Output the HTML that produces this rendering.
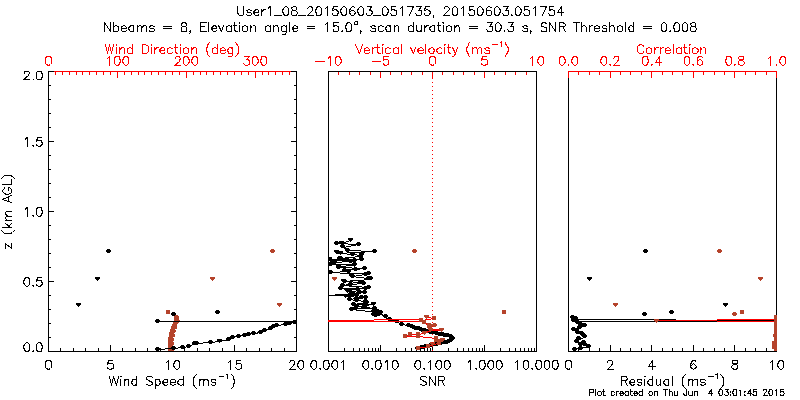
<!DOCTYPE html>
<html lang="en"><head><meta charset="utf-8"><title>User1_08_20150603_051735</title>
<style>
html,body{margin:0;padding:0;background:#fff;}
body{width:800px;height:400px;overflow:hidden;font-family:"Liberation Sans",sans-serif;}
svg{display:block;}
.t{font-family:"Liberation Sans",sans-serif;font-size:11px;fill:#000;fill-opacity:0;}
</style></head><body>
<svg width="800" height="400" viewBox="0 0 800 400" shape-rendering="crispEdges">
<defs>
<clipPath id="cl"><rect x="48" y="71" width="249" height="281"/></clipPath>
<clipPath id="cm"><rect x="328" y="71" width="209" height="281"/></clipPath>
<clipPath id="cr"><rect x="568" y="71" width="209" height="281"/></clipPath>
</defs>
<rect width="800" height="400" fill="#ffffff"/>
<g id="data">
<path d="M48 71h249v1h-249zM48 351h249v1h-249zM48 71h1v281h-1zM296 71h1v281h-1zM48 351h6v1h-6zM291 351h6v1h-6zM48 337h3v1h-3zM294 337h3v1h-3zM48 323h3v1h-3zM294 323h3v1h-3zM48 309h3v1h-3zM294 309h3v1h-3zM48 295h3v1h-3zM294 295h3v1h-3zM48 281h6v1h-6zM291 281h6v1h-6zM48 267h3v1h-3zM294 267h3v1h-3zM48 253h3v1h-3zM294 253h3v1h-3zM48 239h3v1h-3zM294 239h3v1h-3zM48 225h3v1h-3zM294 225h3v1h-3zM48 211h6v1h-6zM291 211h6v1h-6zM48 197h3v1h-3zM294 197h3v1h-3zM48 183h3v1h-3zM294 183h3v1h-3zM48 169h3v1h-3zM294 169h3v1h-3zM48 155h3v1h-3zM294 155h3v1h-3zM48 141h6v1h-6zM291 141h6v1h-6zM48 127h3v1h-3zM294 127h3v1h-3zM48 113h3v1h-3zM294 113h3v1h-3zM48 99h3v1h-3zM294 99h3v1h-3zM48 85h3v1h-3zM294 85h3v1h-3zM48 71h6v1h-6zM291 71h6v1h-6zM48 345h1v7h-1zM60 348h1v4h-1zM73 348h1v4h-1zM85 348h1v4h-1zM98 348h1v4h-1zM110 345h1v7h-1zM122 348h1v4h-1zM135 348h1v4h-1zM147 348h1v4h-1zM160 348h1v4h-1zM172 345h1v7h-1zM184 348h1v4h-1zM197 348h1v4h-1zM209 348h1v4h-1zM222 348h1v4h-1zM234 345h1v7h-1zM246 348h1v4h-1zM259 348h1v4h-1zM271 348h1v4h-1zM284 348h1v4h-1zM296 345h1v7h-1z" fill="#000000" stroke="none"/>
<path d="M54 71h237v1h-237zM55 71h1v4h-1zM62 71h1v4h-1zM69 71h1v4h-1zM76 71h1v4h-1zM82 71h1v4h-1zM89 71h1v4h-1zM96 71h1v4h-1zM103 71h1v4h-1zM110 71h1v4h-1zM117 71h1v7h-1zM124 71h1v4h-1zM131 71h1v4h-1zM138 71h1v4h-1zM144 71h1v4h-1zM151 71h1v4h-1zM158 71h1v4h-1zM165 71h1v4h-1zM172 71h1v4h-1zM179 71h1v4h-1zM186 71h1v7h-1zM193 71h1v4h-1zM200 71h1v4h-1zM206 71h1v4h-1zM213 71h1v4h-1zM220 71h1v4h-1zM227 71h1v4h-1zM234 71h1v4h-1zM241 71h1v4h-1zM248 71h1v4h-1zM255 71h1v7h-1zM262 71h1v4h-1zM268 71h1v4h-1zM275 71h1v4h-1zM282 71h1v4h-1zM289 71h1v4h-1z" fill="#ff0000" stroke="none"/>
<path d="M328 71h1v7h-1zM338 71h1v4h-1zM349 71h1v4h-1zM359 71h1v4h-1zM370 71h1v4h-1zM380 71h1v7h-1zM390 71h1v4h-1zM401 71h1v4h-1zM411 71h1v4h-1zM422 71h1v4h-1zM432 71h1v7h-1zM442 71h1v4h-1zM453 71h1v4h-1zM463 71h1v4h-1zM474 71h1v4h-1zM484 71h1v7h-1zM494 71h1v4h-1zM505 71h1v4h-1zM515 71h1v4h-1zM526 71h1v4h-1zM536 71h1v7h-1z" fill="#ff0000" stroke="none"/>
<path d="M328 71h209v1h-209zM328 351h209v1h-209zM328 71h1v281h-1zM536 71h1v281h-1zM328 345h1v7h-1zM344 348h1v4h-1zM353 348h1v4h-1zM359 348h1v4h-1zM364 348h1v4h-1zM368 348h1v4h-1zM372 348h1v4h-1zM375 348h1v4h-1zM378 348h1v4h-1zM380 345h1v7h-1zM396 348h1v4h-1zM405 348h1v4h-1zM411 348h1v4h-1zM416 348h1v4h-1zM420 348h1v4h-1zM424 348h1v4h-1zM427 348h1v4h-1zM430 348h1v4h-1zM432 345h1v7h-1zM448 348h1v4h-1zM457 348h1v4h-1zM463 348h1v4h-1zM468 348h1v4h-1zM472 348h1v4h-1zM476 348h1v4h-1zM479 348h1v4h-1zM482 348h1v4h-1zM484 345h1v7h-1zM500 348h1v4h-1zM509 348h1v4h-1zM515 348h1v4h-1zM520 348h1v4h-1zM524 348h1v4h-1zM528 348h1v4h-1zM531 348h1v4h-1zM534 348h1v4h-1z" fill="#000000" stroke="none"/>
<path d="M568 71h209v1h-209zM568 351h209v1h-209zM568 71h1v281h-1zM776 71h1v281h-1zM568 345h1v7h-1zM578 348h1v4h-1zM589 348h1v4h-1zM599 348h1v4h-1zM610 345h1v7h-1zM620 348h1v4h-1zM630 348h1v4h-1zM641 348h1v4h-1zM651 345h1v7h-1zM662 348h1v4h-1zM672 348h1v4h-1zM682 348h1v4h-1zM693 345h1v7h-1zM703 348h1v4h-1zM714 348h1v4h-1zM724 348h1v4h-1zM734 345h1v7h-1zM745 348h1v4h-1zM755 348h1v4h-1zM766 348h1v4h-1zM776 345h1v7h-1z" fill="#000000" stroke="none"/>
<path d="M568 71h209v1h-209zM568 71h1v7h-1zM578 71h1v4h-1zM589 71h1v4h-1zM599 71h1v4h-1zM610 71h1v7h-1zM620 71h1v4h-1zM630 71h1v4h-1zM641 71h1v4h-1zM651 71h1v7h-1zM662 71h1v4h-1zM672 71h1v4h-1zM682 71h1v4h-1zM693 71h1v7h-1zM703 71h1v4h-1zM714 71h1v4h-1zM724 71h1v4h-1zM734 71h1v7h-1zM745 71h1v4h-1zM755 71h1v4h-1zM766 71h1v4h-1zM776 71h1v7h-1z" fill="#ff0000" stroke="none"/>
<g clip-path="url(#cl)">
<path d="M175 315h3v1h-3zM174 316h5v1h-5zM174 317h5v1h-5zM174 318h5v1h-5zM174 319h5v1h-5zM174 320h6v1h-6zM174 321h7v1h-7zM173 322h6v1h-6zM173 323h5v1h-5zM172 324h5v1h-5zM172 325h5v1h-5zM171 326h6v1h-6zM171 327h6v1h-6zM171 328h6v1h-6zM170 329h5v1h-5zM170 330h6v1h-6zM170 331h6v1h-6zM169 332h6v1h-6zM169 333h5v1h-5zM169 334h6v1h-6zM169 335h6v1h-6zM169 336h6v1h-6zM168 337h5v1h-5zM168 338h6v1h-6zM168 339h6v1h-6zM168 340h6v1h-6zM168 341h5v1h-5zM168 342h6v1h-6zM168 343h6v1h-6zM168 344h6v1h-6zM168 345h5v1h-5zM168 346h6v1h-6zM168 347h6v1h-6zM168 348h6v1h-6zM168 349h5v1h-5zM168 350h6v1h-6z" fill="#b5432b" stroke="none"/>
<path d="M271 249h3v4h-3zM270 250h5v2h-5zM210 277h5v2h-5zM211 279h3v1h-3zM212 280h1v1h-1zM277 303h5v2h-5zM278 305h3v1h-3zM279 306h1v1h-1zM166 310h4v4h-4z" fill="#b5432b" stroke="none"/>
<path d="M157.5 349.5 L173.5 348.5 L183.5 347.5 L189.5 346.5 L194.5 343.5 L196.5 343.5 L210.5 342.5 L219.5 341.5 L229.5 339.5 L232.5 337.5 L238.5 336.5 L244.5 335.5 L248.5 334.5 L253.5 333.5 L261.5 332.5 L265.5 330.5 L270.5 328.5 L273.5 326.5 L276.5 325.5 L285.5 324.5 L289.5 323.5 L295.5 322.5 L330.5 321.5 L157.5 321.5" stroke="#000000" stroke-width="1" fill="none" />
<path d="M156 347h3v4h-3zM155 348h5v2h-5zM172 346h3v4h-3zM171 347h5v2h-5zM181 345h3v4h-3zM180 346h5v2h-5zM187 344h3v4h-3zM186 345h5v2h-5zM193 341h3v4h-3zM192 342h5v2h-5zM195 341h3v4h-3zM194 342h5v2h-5zM209 340h3v4h-3zM208 341h5v2h-5zM217 339h5v2h-5zM218 341h3v1h-3zM219 342h1v1h-1zM227 337h3v4h-3zM226 338h5v2h-5zM231 335h3v4h-3zM230 336h5v2h-5zM237 334h3v4h-3zM236 335h5v2h-5zM243 333h3v4h-3zM242 334h5v2h-5zM247 332h3v4h-3zM246 333h5v2h-5zM252 331h3v4h-3zM251 332h5v2h-5zM259 330h3v4h-3zM258 331h5v2h-5zM263 328h3v4h-3zM262 329h5v2h-5zM269 326h3v4h-3zM268 327h5v2h-5zM272 324h3v4h-3zM271 325h5v2h-5zM275 323h3v4h-3zM274 324h5v2h-5zM284 322h3v4h-3zM283 323h5v2h-5zM288 321h3v4h-3zM287 322h5v2h-5zM293 320h3v4h-3zM292 321h5v2h-5z" fill="#000000" stroke="none"/>
<path d="M107 249h3v4h-3zM106 250h5v2h-5zM95 277h5v2h-5zM96 279h3v1h-3zM97 280h1v1h-1zM76 303h5v2h-5zM77 305h3v1h-3zM78 306h1v1h-1zM216 310h3v4h-3zM215 311h5v2h-5zM172 312h3v4h-3zM171 313h5v2h-5zM156 319h3v4h-3zM155 320h5v2h-5z" fill="#000000" stroke="none"/>
</g>
<g clip-path="url(#cm)">
<path d="M350.5 240.5 L341.5 243.5 L336.5 243.5 L358.5 244.5 L343.5 247.5 L347.5 250.5 L374.5 251.5 L337.5 253.5 L340.5 253.5 L352.5 254.5 L361.5 255.5 L360.5 256.5 L340.5 258.5 L339.5 258.5 L346.5 259.5 L361.5 259.5 L329.5 259.5 L354.5 260.5 L320.5 260.5 L344.5 260.5 L350.5 261.5 L333.5 262.5 L320.5 262.5 L334.5 262.5 L330.5 264.5 L354.5 264.5 L354.5 265.5 L338.5 266.5 L338.5 267.5 L364.5 268.5 L355.5 269.5 L345.5 270.5 L348.5 271.5 L331.5 272.5 L348.5 273.5 L368.5 273.5 L365.5 274.5 L352.5 276.5 L351.5 276.5 L368.5 278.5 L370.5 279.5 L343.5 281.5 L344.5 281.5 L361.5 282.5 L363.5 283.5 L350.5 284.5 L342.5 285.5 L368.5 287.5 L365.5 288.5 L340.5 288.5 L357.5 289.5 L346.5 290.5 L347.5 291.5 L364.5 292.5 L359.5 292.5 L352.5 293.5 L350.5 294.5 L320.5 295.5 L356.5 295.5 L345.5 296.5 L361.5 297.5 L365.5 297.5 L349.5 299.5 L356.5 300.5 L365.5 301.5 L366.5 302.5 L353.5 304.5 L373.5 304.5 L364.5 305.5 L364.5 306.5 L356.5 306.5 L374.5 308.5 L355.5 308.5 L351.5 309.5 L377.5 312.5 L377.5 312.5 L373.5 314.5 L380.5 313.5 L385.5 317.5 L389.5 319.5 L396.5 321.5 L401.5 324.5 L408.5 325.5 L415.5 328.5 L422.5 330.5 L430.5 332.5 L439.5 334.5 L445.5 335.5 L450.5 336.5 L452.5 338.5 L450.5 340.5 L446.5 342.5 L441.5 343.5 L435.5 344.5 L425.5 346.5 L417.5 348.5" stroke="#000000" stroke-width="1" fill="none" />
<path d="M348 238h5v2h-5zM349 240h3v1h-3zM350 241h1v1h-1zM339 241h5v2h-5zM340 243h3v1h-3zM341 244h1v1h-1zM335 241h3v4h-3zM334 242h5v2h-5zM357 242h3v4h-3zM356 243h5v2h-5zM341 244h3v4h-3zM340 245h5v2h-5zM346 248h3v4h-3zM345 249h5v2h-5zM373 249h3v4h-3zM372 250h5v2h-5zM334 250h5v2h-5zM335 252h3v1h-3zM336 253h1v1h-1zM338 251h5v2h-5zM339 253h3v1h-3zM340 254h1v1h-1zM351 252h3v4h-3zM350 253h5v2h-5zM359 253h5v2h-5zM360 255h3v1h-3zM361 256h1v1h-1zM359 254h3v4h-3zM358 255h5v2h-5zM339 256h3v4h-3zM338 257h5v2h-5zM338 256h3v4h-3zM337 257h5v2h-5zM345 257h3v4h-3zM344 258h5v2h-5zM360 257h3v4h-3zM359 258h5v2h-5zM327 257h5v2h-5zM328 259h3v1h-3zM329 260h1v1h-1zM353 258h3v4h-3zM352 259h5v2h-5zM319 258h3v4h-3zM318 259h5v2h-5zM343 258h3v4h-3zM342 259h5v2h-5zM349 259h3v4h-3zM348 260h5v2h-5zM330 260h5v2h-5zM331 262h3v1h-3zM332 263h1v1h-1zM319 260h3v4h-3zM318 261h5v2h-5zM333 260h3v4h-3zM332 261h5v2h-5zM329 262h3v4h-3zM328 263h5v2h-5zM353 262h3v4h-3zM352 263h5v2h-5zM352 263h5v2h-5zM353 265h3v1h-3zM354 266h1v1h-1zM337 264h3v4h-3zM336 265h5v2h-5zM337 265h3v4h-3zM336 266h5v2h-5zM363 266h3v4h-3zM362 267h5v2h-5zM354 267h3v4h-3zM353 268h5v2h-5zM343 268h3v4h-3zM342 269h5v2h-5zM347 269h3v4h-3zM346 270h5v2h-5zM329 270h3v4h-3zM328 271h5v2h-5zM346 270h5v2h-5zM347 272h3v1h-3zM348 273h1v1h-1zM367 271h3v4h-3zM366 272h5v2h-5zM364 272h3v4h-3zM363 273h5v2h-5zM351 274h3v4h-3zM350 275h5v2h-5zM349 274h5v2h-5zM350 276h3v1h-3zM351 277h1v1h-1zM367 276h3v4h-3zM366 277h5v2h-5zM369 276h3v4h-3zM368 277h5v2h-5zM341 279h5v2h-5zM342 281h3v1h-3zM343 282h1v1h-1zM343 279h3v4h-3zM342 280h5v2h-5zM359 280h3v4h-3zM358 281h5v2h-5zM362 281h3v4h-3zM361 282h5v2h-5zM349 282h3v4h-3zM348 283h5v2h-5zM341 283h3v4h-3zM340 284h5v2h-5zM367 285h3v4h-3zM366 286h5v2h-5zM364 286h3v4h-3zM363 287h5v2h-5zM339 286h3v4h-3zM338 287h5v2h-5zM356 287h3v4h-3zM355 288h5v2h-5zM344 288h5v2h-5zM345 290h3v1h-3zM346 291h1v1h-1zM345 289h5v2h-5zM346 291h3v1h-3zM347 292h1v1h-1zM363 290h3v4h-3zM362 291h5v2h-5zM358 290h3v4h-3zM357 291h5v2h-5zM351 291h3v4h-3zM350 292h5v2h-5zM349 292h3v4h-3zM348 293h5v2h-5zM319 293h3v4h-3zM318 294h5v2h-5zM355 293h3v4h-3zM354 294h5v2h-5zM343 294h5v2h-5zM344 296h3v1h-3zM345 297h1v1h-1zM360 295h3v4h-3zM359 296h5v2h-5zM364 295h3v4h-3zM363 296h5v2h-5zM348 297h3v4h-3zM347 298h5v2h-5zM355 298h3v4h-3zM354 299h5v2h-5zM364 299h3v4h-3zM363 300h5v2h-5zM365 300h3v4h-3zM364 301h5v2h-5zM352 302h3v4h-3zM351 303h5v2h-5zM371 302h5v2h-5zM372 304h3v1h-3zM373 305h1v1h-1zM363 303h3v4h-3zM362 304h5v2h-5zM363 304h3v4h-3zM362 305h5v2h-5zM355 304h3v4h-3zM354 305h5v2h-5zM373 306h3v4h-3zM372 307h5v2h-5zM354 306h3v4h-3zM353 307h5v2h-5zM350 307h3v4h-3zM349 308h5v2h-5zM376 310h3v4h-3zM375 311h5v2h-5z" fill="#000000" stroke="none"/>
<path d="M384 314h3v4h-3zM383 315h5v2h-5zM388 317h3v4h-3zM387 318h5v2h-5zM395 319h3v4h-3zM394 320h5v2h-5zM400 322h3v4h-3zM399 323h5v2h-5zM407 323h3v4h-3zM406 324h5v2h-5zM407 323h3v4h-3zM406 324h5v2h-5zM410 324h3v4h-3zM409 325h5v2h-5zM412 325h3v4h-3zM411 326h5v2h-5zM414 326h3v4h-3zM413 327h5v2h-5zM417 326h3v4h-3zM416 327h5v2h-5zM419 327h3v4h-3zM418 328h5v2h-5zM421 328h3v4h-3zM420 329h5v2h-5zM423 328h3v4h-3zM422 329h5v2h-5zM425 329h3v4h-3zM424 330h5v2h-5zM427 329h3v4h-3zM426 330h5v2h-5zM429 330h3v4h-3zM428 331h5v2h-5zM432 330h3v4h-3zM431 331h5v2h-5zM435 331h3v4h-3zM434 332h5v2h-5zM438 332h3v4h-3zM437 333h5v2h-5zM441 332h3v4h-3zM440 333h5v2h-5zM443 333h3v4h-3zM442 334h5v2h-5zM446 333h3v4h-3zM445 334h5v2h-5zM449 334h3v4h-3zM448 335h5v2h-5zM451 336h3v4h-3zM450 337h5v2h-5zM449 338h3v4h-3zM448 339h5v2h-5zM447 339h3v4h-3zM446 340h5v2h-5zM445 340h3v4h-3zM444 341h5v2h-5zM442 340h3v4h-3zM441 341h5v2h-5zM439 341h3v4h-3zM438 342h5v2h-5zM437 341h3v4h-3zM436 342h5v2h-5zM435 342h3v4h-3zM434 343h5v2h-5zM433 342h3v4h-3zM432 343h5v2h-5zM431 342h3v4h-3zM430 343h5v2h-5zM429 343h3v4h-3zM428 344h5v2h-5zM426 344h3v4h-3zM425 345h5v2h-5zM424 344h3v4h-3zM423 345h5v2h-5zM422 345h3v4h-3zM421 346h5v2h-5zM420 345h3v4h-3zM419 346h5v2h-5zM418 346h3v4h-3zM417 347h5v2h-5zM416 346h3v4h-3zM415 347h5v2h-5zM376 310h3v4h-3zM375 311h5v2h-5zM372 312h3v4h-3zM371 313h5v2h-5zM379 310h3v4h-3zM378 311h5v2h-5zM373 308h3v4h-3zM372 309h5v2h-5zM376 309h3v4h-3zM375 310h5v2h-5zM373 310h3v4h-3zM372 311h5v2h-5zM377 312h3v4h-3zM376 313h5v2h-5zM374 313h3v4h-3zM373 314h5v2h-5zM372 309h3v4h-3zM371 310h5v2h-5z" fill="#000000" stroke="none"/>
<path d="M328 320h46v1h-46zM374 319h48v1h-48z" fill="#ff0000" stroke="none"/>
<path d="M328 321h97v1h-97z" fill="#ff0000" stroke="none"/>
<path d="M426.5 317.5 L434.5 318.5 L421.5 320.5" stroke="#ff0000" stroke-width="1" fill="none" />
<path d="M424.5 322.5 L428.5 325.5 L435.5 325.5 L430.5 326.5 L429.5 328.5 L441.5 330.5 L430.5 330.5 L424.5 333.5 L417.5 334.5 L409.5 334.5 L404.5 336.5 L418.5 336.5 L436.5 338.5 L435.5 340.5 L442.5 341.5 L440.5 341.5 L439.5 343.5 L432.5 344.5 L428.5 346.5 L417.5 348.5" stroke="#ff0000" stroke-width="1" fill="none" />
<path d="M424 315h5v2h-5zM425 317h3v1h-3zM426 318h1v1h-1zM432 316h4v4h-4zM419 318h4v4h-4zM422 320h4v4h-4zM427 323h4v4h-4zM433 323h3v4h-3zM432 324h5v2h-5zM428 324h4v4h-4zM427 326h5v2h-5zM428 328h3v1h-3zM429 329h1v1h-1zM439 328h5v2h-5zM440 330h3v1h-3zM441 331h1v1h-1zM428 328h5v2h-5zM429 330h3v1h-3zM430 331h1v1h-1zM422 331h5v2h-5zM423 333h3v1h-3zM424 334h1v1h-1zM416 332h4v4h-4zM408 332h4v4h-4zM403 334h4v4h-4zM416 334h4v4h-4zM434 336h4v4h-4zM434 338h4v4h-4zM440 338h5v2h-5zM441 340h3v1h-3zM442 341h1v1h-1zM438 339h5v2h-5zM439 341h3v1h-3zM440 342h1v1h-1zM437 341h4v4h-4zM430 342h5v2h-5zM431 344h3v1h-3zM432 345h1v1h-1zM426 344h4v4h-4zM416 346h4v4h-4z" fill="#b5432b" stroke="none"/>
<path d="M413 249h3v4h-3zM412 250h5v2h-5zM332 277h5v2h-5zM333 279h3v1h-3zM334 280h1v1h-1zM502 310h4v4h-4z" fill="#b5432b" stroke="none"/>
</g>
<path d="M432 78h1v1h-1zM432 82h1v1h-1zM432 86h1v1h-1zM432 90h1v1h-1zM432 94h1v1h-1zM432 98h1v1h-1zM432 102h1v1h-1zM432 106h1v1h-1zM432 110h1v1h-1zM432 114h1v1h-1zM432 118h1v1h-1zM432 122h1v1h-1zM432 126h1v1h-1zM432 130h1v1h-1zM432 134h1v1h-1zM432 138h1v1h-1zM432 142h1v1h-1zM432 146h1v1h-1zM432 150h1v1h-1zM432 154h1v1h-1zM432 158h1v1h-1zM432 162h1v1h-1zM432 166h1v1h-1zM432 170h1v1h-1zM432 174h1v1h-1zM432 178h1v1h-1zM432 182h1v1h-1zM432 186h1v1h-1zM432 190h1v1h-1zM432 194h1v1h-1zM432 198h1v1h-1zM432 202h1v1h-1zM432 206h1v1h-1zM432 210h1v1h-1zM432 214h1v1h-1zM432 218h1v1h-1zM432 222h1v1h-1zM432 226h1v1h-1zM432 230h1v1h-1zM432 234h1v1h-1zM432 238h1v1h-1zM432 242h1v1h-1zM432 246h1v1h-1zM432 250h1v1h-1zM432 254h1v1h-1zM432 258h1v1h-1zM432 262h1v1h-1zM432 266h1v1h-1zM432 270h1v1h-1zM432 274h1v1h-1zM432 278h1v1h-1zM432 282h1v1h-1zM432 286h1v1h-1zM432 290h1v1h-1zM432 294h1v1h-1zM432 298h1v1h-1zM432 302h1v1h-1zM432 306h1v1h-1zM432 310h1v1h-1zM432 314h1v1h-1zM432 318h1v1h-1zM432 322h1v1h-1zM432 326h1v1h-1zM432 330h1v1h-1zM432 334h1v1h-1zM432 338h1v1h-1zM432 342h1v1h-1zM432 346h1v1h-1zM432 350h1v1h-1z" fill="#ff0000" stroke="none"/>
<g clip-path="url(#cr)">
<path d="M572.5 317.5 L575.5 318.5 L577.5 323.5 L584.5 325.5 L573.5 329.5 L576.5 330.5 L581.5 333.5 L585.5 336.5 L576.5 341.5 L583.5 343.5 L588.5 346.5 L580.5 348.5 L574.5 349.5" stroke="#000000" stroke-width="1" fill="none" />
<path d="M571 315h3v4h-3zM570 316h5v2h-5zM574 316h3v4h-3zM573 317h5v2h-5zM576 320h3v4h-3zM575 321h5v2h-5zM583 323h3v4h-3zM582 324h5v2h-5zM572 327h3v4h-3zM571 328h5v2h-5zM575 328h3v4h-3zM574 329h5v2h-5zM580 331h3v4h-3zM579 332h5v2h-5zM583 334h3v4h-3zM582 335h5v2h-5zM575 339h3v4h-3zM574 340h5v2h-5zM582 340h3v4h-3zM581 341h5v2h-5zM587 344h3v4h-3zM586 345h5v2h-5zM579 346h3v4h-3zM578 347h5v2h-5zM573 347h3v4h-3zM572 348h5v2h-5zM572 318h3v4h-3zM571 319h5v2h-5zM579 322h3v4h-3zM578 323h5v2h-5zM577 336h3v4h-3zM576 337h5v2h-5zM579 342h3v4h-3zM578 343h5v2h-5zM576 330h3v4h-3zM575 331h5v2h-5zM578 325h3v4h-3zM577 326h5v2h-5zM581 332h3v4h-3zM580 333h5v2h-5zM583 342h3v4h-3zM582 343h5v2h-5z" fill="#000000" stroke="none"/>
<path d="M577 319h99v1h-99zM577 321h140v1h-140zM717 320h60v1h-60z" fill="#000000" stroke="none"/>
<path d="M656 320h61v1h-61zM717 319h60v1h-60zM717 321h60v1h-60z" fill="#ff0000" stroke="none"/>
<path d="M644 249h3v4h-3zM643 250h5v2h-5zM587 277h5v2h-5zM588 279h3v1h-3zM589 280h1v1h-1zM723 303h5v2h-5zM724 305h3v1h-3zM725 306h1v1h-1zM670 310h3v4h-3zM669 311h5v2h-5zM643 312h3v4h-3zM642 313h5v2h-5z" fill="#000000" stroke="none"/>
<path d="M718 249h3v4h-3zM717 250h5v2h-5zM758 277h5v2h-5zM759 279h3v1h-3zM760 280h1v1h-1zM613 303h5v2h-5zM614 305h3v1h-3zM615 306h1v1h-1zM733 312h3v4h-3zM732 313h5v2h-5zM740 310h4v4h-4zM654 319h5v2h-5zM655 321h3v1h-3zM656 322h1v1h-1z" fill="#b5432b" stroke="none"/>
</g>
<path d="M774 315h3v36h-3zM773 334h1v3h-1zM772 341h2v8h-2z" fill="#b5432b" stroke="none"/>
</g>
<g id="text" stroke-linecap="square" stroke-linejoin="miter">
<path d="M237.5 6.5 L237.5 12.5 L238.5 14.5 L239.5 15.5 L240.5 15.5 L241.5 15.5 L242.5 15.5 L243.5 14.5 L243.5 12.5 L243.5 6.5M251.5 10.5 L250.5 10.5 L249.5 9.5 L248.5 9.5 L247.5 10.5 L246.5 10.5 L247.5 11.5 L247.5 12.5 L250.5 12.5 L251.5 13.5 L251.5 14.5 L250.5 15.5 L249.5 15.5 L248.5 15.5 L247.5 15.5 L246.5 14.5M253.5 12.5 L258.5 12.5 L258.5 11.5 L258.5 10.5 L257.5 9.5 L255.5 9.5 L255.5 10.5 L254.5 10.5 L253.5 12.5 L254.5 14.5 L255.5 15.5 L257.5 15.5 L258.5 15.5 L258.5 14.5M261.5 9.5 L261.5 15.5M261.5 12.5 L262.5 10.5 L263.5 10.5 L263.5 9.5 L265.5 9.5M268.5 8.5 L268.5 7.5 L270.5 6.5 L270.5 15.5M274.5 15.5 L281.5 15.5M285.5 6.5 L284.5 7.5 L283.5 8.5 L282.5 10.5 L282.5 11.5 L283.5 13.5 L284.5 15.5 L285.5 15.5 L286.5 15.5 L287.5 15.5 L288.5 13.5 L288.5 11.5 L288.5 10.5 L288.5 8.5 L287.5 7.5 L286.5 6.5 L285.5 6.5M293.5 6.5 L292.5 7.5 L291.5 7.5 L291.5 8.5 L292.5 9.5 L292.5 10.5 L294.5 10.5 L295.5 10.5 L296.5 11.5 L297.5 12.5 L297.5 13.5 L296.5 14.5 L296.5 15.5 L295.5 15.5 L293.5 15.5 L292.5 15.5 L291.5 14.5 L291.5 13.5 L291.5 12.5 L291.5 11.5 L292.5 10.5 L293.5 10.5 L295.5 10.5 L296.5 9.5 L296.5 8.5 L296.5 7.5 L295.5 6.5 L293.5 6.5M298.5 15.5 L305.5 15.5M307.5 8.5 L308.5 7.5 L309.5 6.5 L311.5 6.5 L311.5 7.5 L312.5 7.5 L312.5 8.5 L312.5 9.5 L312.5 10.5 L311.5 11.5 L307.5 15.5 L313.5 15.5M318.5 6.5 L316.5 7.5 L316.5 8.5 L315.5 10.5 L315.5 11.5 L316.5 13.5 L316.5 15.5 L318.5 15.5 L319.5 15.5 L320.5 15.5 L321.5 13.5 L321.5 11.5 L321.5 10.5 L321.5 8.5 L320.5 7.5 L319.5 6.5 L318.5 6.5M325.5 8.5 L326.5 7.5 L327.5 6.5 L327.5 15.5M337.5 6.5 L333.5 6.5 L332.5 10.5 L333.5 10.5 L334.5 9.5 L335.5 9.5 L337.5 10.5 L338.5 12.5 L337.5 14.5 L337.5 15.5 L335.5 15.5 L334.5 15.5 L333.5 15.5 L332.5 14.5 L332.5 13.5M343.5 6.5 L342.5 7.5 L341.5 8.5 L340.5 10.5 L340.5 11.5 L341.5 13.5 L342.5 15.5 L343.5 15.5 L344.5 15.5 L345.5 15.5 L346.5 13.5 L346.5 11.5 L346.5 10.5 L346.5 8.5 L345.5 7.5 L344.5 6.5 L343.5 6.5M354.5 7.5 L353.5 6.5 L352.5 6.5 L351.5 7.5 L350.5 8.5 L349.5 10.5 L349.5 12.5 L350.5 14.5 L351.5 15.5 L352.5 15.5 L353.5 15.5 L354.5 14.5 L355.5 12.5 L354.5 11.5 L353.5 10.5 L352.5 10.5 L351.5 10.5 L350.5 11.5 L349.5 12.5M360.5 6.5 L359.5 7.5 L358.5 8.5 L357.5 10.5 L357.5 11.5 L358.5 13.5 L359.5 15.5 L360.5 15.5 L361.5 15.5 L362.5 15.5 L363.5 13.5 L363.5 11.5 L363.5 10.5 L363.5 8.5 L362.5 7.5 L361.5 6.5 L360.5 6.5M367.5 6.5 L371.5 6.5 L369.5 10.5 L370.5 10.5 L371.5 10.5 L372.5 12.5 L371.5 14.5 L370.5 15.5 L369.5 15.5 L368.5 15.5 L367.5 15.5 L366.5 14.5 L366.5 13.5M373.5 15.5 L380.5 15.5M384.5 6.5 L383.5 7.5 L382.5 8.5 L382.5 10.5 L382.5 11.5 L382.5 13.5 L383.5 15.5 L384.5 15.5 L385.5 15.5 L386.5 15.5 L387.5 13.5 L388.5 11.5 L388.5 10.5 L387.5 8.5 L386.5 7.5 L385.5 6.5 L384.5 6.5M395.5 6.5 L391.5 6.5 L391.5 10.5 L392.5 9.5 L393.5 9.5 L395.5 10.5 L396.5 10.5 L396.5 12.5 L396.5 14.5 L395.5 15.5 L393.5 15.5 L392.5 15.5 L391.5 15.5 L391.5 14.5 L390.5 13.5M400.5 8.5 L401.5 7.5 L402.5 6.5 L402.5 15.5M413.5 6.5 L409.5 15.5M407.5 6.5 L413.5 6.5M416.5 6.5 L421.5 6.5 L418.5 10.5 L420.5 10.5 L421.5 10.5 L421.5 12.5 L421.5 14.5 L420.5 15.5 L419.5 15.5 L417.5 15.5 L416.5 15.5 L416.5 14.5 L415.5 13.5M429.5 6.5 L425.5 6.5 L424.5 10.5 L425.5 10.5 L426.5 9.5 L427.5 9.5 L428.5 10.5 L429.5 10.5 L430.5 12.5 L429.5 14.5 L428.5 15.5 L427.5 15.5 L426.5 15.5 L425.5 15.5 L424.5 14.5 L424.5 13.5M433.5 15.5 L433.5 14.5 L433.5 15.5 L433.5 16.5 L433.5 17.5M444.5 8.5 L444.5 7.5 L445.5 6.5 L447.5 6.5 L448.5 7.5 L449.5 8.5 L449.5 9.5 L448.5 10.5 L447.5 11.5 L443.5 15.5 L449.5 15.5M454.5 6.5 L453.5 7.5 L452.5 8.5 L452.5 10.5 L452.5 11.5 L452.5 13.5 L453.5 15.5 L454.5 15.5 L455.5 15.5 L456.5 15.5 L457.5 13.5 L457.5 11.5 L457.5 10.5 L457.5 8.5 L456.5 7.5 L455.5 6.5 L454.5 6.5M461.5 8.5 L462.5 7.5 L463.5 6.5 L463.5 15.5M473.5 6.5 L469.5 6.5 L469.5 10.5 L471.5 9.5 L472.5 9.5 L473.5 10.5 L474.5 10.5 L474.5 12.5 L474.5 14.5 L473.5 15.5 L472.5 15.5 L471.5 15.5 L469.5 15.5 L469.5 14.5 L468.5 13.5M479.5 6.5 L478.5 7.5 L477.5 8.5 L477.5 10.5 L477.5 11.5 L477.5 13.5 L478.5 15.5 L479.5 15.5 L480.5 15.5 L481.5 15.5 L482.5 13.5 L483.5 11.5 L483.5 10.5 L482.5 8.5 L481.5 7.5 L480.5 6.5 L479.5 6.5M491.5 7.5 L490.5 7.5 L489.5 6.5 L488.5 6.5 L487.5 7.5 L486.5 8.5 L486.5 10.5 L486.5 12.5 L486.5 14.5 L487.5 15.5 L488.5 15.5 L489.5 15.5 L490.5 15.5 L491.5 14.5 L491.5 12.5 L491.5 11.5 L490.5 10.5 L489.5 10.5 L488.5 10.5 L487.5 10.5 L486.5 11.5 L486.5 12.5M496.5 6.5 L495.5 7.5 L494.5 8.5 L494.5 10.5 L494.5 11.5 L494.5 13.5 L495.5 15.5 L496.5 15.5 L497.5 15.5 L498.5 15.5 L499.5 13.5 L500.5 11.5 L500.5 10.5 L499.5 8.5 L498.5 7.5 L497.5 6.5 L496.5 6.5M503.5 6.5 L508.5 6.5 L505.5 10.5 L506.5 10.5 L507.5 10.5 L508.5 10.5 L508.5 12.5 L508.5 14.5 L507.5 15.5 L505.5 15.5 L504.5 15.5 L503.5 15.5 L503.5 14.5 L502.5 13.5M511.5 14.5 L511.5 15.5 L512.5 15.5 L511.5 14.5M517.5 6.5 L516.5 7.5 L515.5 8.5 L515.5 10.5 L515.5 11.5 L515.5 13.5 L516.5 15.5 L517.5 15.5 L518.5 15.5 L519.5 15.5 L520.5 13.5 L521.5 11.5 L521.5 10.5 L520.5 8.5 L519.5 7.5 L518.5 6.5 L517.5 6.5M528.5 6.5 L524.5 6.5 L524.5 10.5 L525.5 9.5 L527.5 9.5 L528.5 10.5 L529.5 10.5 L529.5 12.5 L529.5 14.5 L528.5 15.5 L527.5 15.5 L525.5 15.5 L524.5 15.5 L524.5 14.5 L523.5 13.5M533.5 8.5 L534.5 7.5 L535.5 6.5 L535.5 15.5M546.5 6.5 L542.5 15.5M540.5 6.5 L546.5 6.5M553.5 6.5 L549.5 6.5 L549.5 10.5 L551.5 9.5 L552.5 9.5 L553.5 10.5 L554.5 10.5 L554.5 12.5 L554.5 14.5 L553.5 15.5 L552.5 15.5 L551.5 15.5 L549.5 15.5 L549.5 14.5 L548.5 13.5M561.5 6.5 L557.5 12.5 L563.5 12.5M561.5 6.5 L561.5 15.5" stroke="#000000" stroke-width="1" fill="none" />
<path d="M104.5 22.5 L104.5 31.5M104.5 22.5 L110.5 31.5M110.5 22.5 L110.5 31.5M113.5 22.5 L113.5 31.5M113.5 26.5 L114.5 26.5 L115.5 25.5 L116.5 25.5 L117.5 26.5 L118.5 26.5 L118.5 28.5 L118.5 30.5 L117.5 31.5 L116.5 31.5 L115.5 31.5 L114.5 31.5 L113.5 30.5M121.5 28.5 L126.5 28.5 L126.5 27.5 L125.5 26.5 L124.5 25.5 L123.5 25.5 L122.5 26.5 L121.5 26.5 L121.5 28.5 L121.5 30.5 L122.5 31.5 L123.5 31.5 L124.5 31.5 L125.5 31.5 L126.5 30.5M133.5 25.5 L133.5 31.5M133.5 26.5 L132.5 25.5 L130.5 25.5 L130.5 26.5 L129.5 26.5 L128.5 28.5 L129.5 30.5 L130.5 31.5 L132.5 31.5 L133.5 31.5 L133.5 30.5M137.5 25.5 L137.5 31.5M137.5 27.5 L138.5 26.5 L139.5 25.5 L140.5 25.5 L141.5 26.5 L141.5 27.5 L141.5 31.5M141.5 27.5 L143.5 26.5 L143.5 25.5 L145.5 25.5 L146.5 26.5 L146.5 27.5 L146.5 31.5M154.5 26.5 L153.5 26.5 L152.5 25.5 L151.5 25.5 L149.5 26.5 L149.5 27.5 L150.5 28.5 L152.5 28.5 L153.5 28.5 L154.5 29.5 L154.5 30.5 L153.5 31.5 L152.5 31.5 L151.5 31.5 L149.5 31.5 L149.5 30.5M163.5 26.5 L171.5 26.5M163.5 28.5 L171.5 28.5M183.5 22.5 L181.5 23.5 L181.5 24.5 L181.5 25.5 L182.5 26.5 L184.5 26.5 L185.5 26.5 L186.5 27.5 L186.5 28.5 L186.5 29.5 L186.5 30.5 L186.5 31.5 L184.5 31.5 L183.5 31.5 L181.5 31.5 L181.5 30.5 L181.5 29.5 L181.5 28.5 L181.5 27.5 L182.5 26.5 L183.5 26.5 L185.5 26.5 L186.5 25.5 L186.5 24.5 L186.5 23.5 L184.5 22.5 L183.5 22.5M190.5 31.5 L189.5 31.5 L190.5 30.5 L190.5 31.5 L190.5 32.5 L189.5 33.5M200.5 22.5 L200.5 31.5M200.5 22.5 L206.5 22.5M200.5 26.5 L204.5 26.5M200.5 31.5 L206.5 31.5M208.5 22.5 L208.5 31.5M211.5 28.5 L216.5 28.5 L216.5 27.5 L216.5 26.5 L215.5 26.5 L215.5 25.5 L213.5 25.5 L213.5 26.5 L212.5 26.5 L211.5 28.5 L212.5 30.5 L213.5 31.5 L215.5 31.5 L216.5 30.5M218.5 25.5 L221.5 31.5M223.5 25.5 L221.5 31.5M231.5 25.5 L231.5 31.5M231.5 26.5 L230.5 26.5 L229.5 25.5 L228.5 25.5 L227.5 26.5 L226.5 26.5 L226.5 28.5 L226.5 30.5 L227.5 31.5 L228.5 31.5 L229.5 31.5 L230.5 31.5 L231.5 30.5M234.5 22.5 L234.5 29.5 L235.5 31.5 L236.5 31.5 L237.5 31.5M233.5 25.5 L236.5 25.5M239.5 22.5 L239.5 23.5 L239.5 22.5M239.5 25.5 L239.5 31.5M244.5 25.5 L243.5 26.5 L242.5 26.5 L242.5 28.5 L242.5 30.5 L243.5 31.5 L244.5 31.5 L245.5 31.5 L246.5 31.5 L247.5 30.5 L247.5 28.5 L247.5 26.5 L246.5 26.5 L245.5 25.5 L244.5 25.5M250.5 25.5 L250.5 31.5M250.5 27.5 L252.5 26.5 L253.5 25.5 L254.5 25.5 L255.5 26.5 L255.5 27.5 L255.5 31.5M270.5 25.5 L270.5 31.5M270.5 26.5 L269.5 26.5 L268.5 25.5 L267.5 25.5 L266.5 26.5 L265.5 26.5 L265.5 28.5 L265.5 30.5 L266.5 31.5 L267.5 31.5 L268.5 31.5 L269.5 31.5 L270.5 30.5M273.5 25.5 L273.5 31.5M273.5 27.5 L274.5 26.5 L275.5 25.5 L277.5 25.5 L277.5 26.5 L278.5 27.5 L278.5 31.5M286.5 25.5 L286.5 32.5 L285.5 33.5 L285.5 34.5 L284.5 34.5 L283.5 34.5 L282.5 34.5M286.5 26.5 L285.5 26.5 L284.5 25.5 L283.5 25.5 L282.5 26.5 L281.5 26.5 L281.5 28.5 L281.5 30.5 L282.5 31.5 L283.5 31.5 L284.5 31.5 L285.5 31.5 L286.5 30.5M289.5 22.5 L289.5 31.5M292.5 28.5 L297.5 28.5 L297.5 27.5 L297.5 26.5 L296.5 26.5 L295.5 25.5 L294.5 25.5 L293.5 26.5 L292.5 28.5 L293.5 30.5 L293.5 31.5 L294.5 31.5 L295.5 31.5 L296.5 31.5 L297.5 30.5M307.5 26.5 L314.5 26.5M307.5 28.5 L314.5 28.5M325.5 24.5 L326.5 23.5 L327.5 22.5 L327.5 31.5M338.5 22.5 L333.5 22.5 L333.5 26.5 L335.5 25.5 L336.5 25.5 L337.5 26.5 L338.5 26.5 L338.5 28.5 L338.5 30.5 L337.5 31.5 L336.5 31.5 L335.5 31.5 L333.5 31.5 L333.5 30.5 L333.5 29.5M342.5 30.5 L341.5 31.5 L342.5 31.5 L342.5 30.5M348.5 22.5 L346.5 23.5 L346.5 24.5 L345.5 26.5 L345.5 27.5 L346.5 29.5 L346.5 31.5 L348.5 31.5 L349.5 31.5 L350.5 31.5 L351.5 29.5 L351.5 27.5 L351.5 26.5 L351.5 24.5 L350.5 23.5 L349.5 22.5 L348.5 22.5M355.5 21.5 L354.5 22.5 L354.5 23.5 L354.5 24.5 L355.5 24.5 L356.5 24.5 L357.5 24.5 L357.5 23.5 L357.5 22.5 L357.5 21.5 L356.5 21.5 L355.5 21.5M361.5 31.5 L360.5 31.5 L360.5 30.5 L361.5 31.5 L360.5 32.5 L360.5 33.5M375.5 26.5 L373.5 25.5 L372.5 25.5 L371.5 26.5 L370.5 26.5 L371.5 27.5 L372.5 28.5 L374.5 28.5 L375.5 28.5 L375.5 29.5 L375.5 30.5 L375.5 31.5 L373.5 31.5 L372.5 31.5 L371.5 31.5 L370.5 30.5M383.5 26.5 L382.5 26.5 L381.5 25.5 L380.5 25.5 L379.5 26.5 L378.5 26.5 L378.5 28.5 L378.5 30.5 L379.5 31.5 L380.5 31.5 L381.5 31.5 L382.5 31.5 L383.5 30.5M390.5 25.5 L390.5 31.5M390.5 26.5 L389.5 26.5 L389.5 25.5 L387.5 25.5 L386.5 26.5 L385.5 28.5 L386.5 30.5 L386.5 31.5 L387.5 31.5 L389.5 31.5 L390.5 30.5M394.5 25.5 L394.5 31.5M394.5 27.5 L395.5 26.5 L396.5 25.5 L397.5 25.5 L398.5 26.5 L398.5 27.5 L398.5 31.5M413.5 22.5 L413.5 31.5M413.5 26.5 L412.5 26.5 L411.5 25.5 L410.5 25.5 L409.5 26.5 L408.5 26.5 L408.5 28.5 L408.5 30.5 L409.5 31.5 L410.5 31.5 L411.5 31.5 L412.5 31.5 L413.5 30.5M416.5 25.5 L416.5 29.5 L417.5 31.5 L418.5 31.5 L419.5 31.5 L420.5 31.5 L421.5 29.5M421.5 25.5 L421.5 31.5M424.5 25.5 L424.5 31.5M424.5 28.5 L425.5 26.5 L426.5 26.5 L426.5 25.5 L428.5 25.5M434.5 25.5 L434.5 31.5M434.5 26.5 L433.5 25.5 L432.5 25.5 L431.5 26.5 L430.5 26.5 L429.5 28.5 L430.5 30.5 L431.5 31.5 L432.5 31.5 L433.5 31.5 L434.5 31.5 L434.5 30.5M438.5 22.5 L438.5 29.5 L439.5 31.5 L440.5 31.5M437.5 25.5 L440.5 25.5M442.5 22.5 L443.5 23.5 L443.5 22.5 L442.5 22.5M443.5 25.5 L443.5 31.5M448.5 25.5 L447.5 26.5 L446.5 26.5 L446.5 28.5 L446.5 30.5 L447.5 31.5 L448.5 31.5 L449.5 31.5 L450.5 31.5 L451.5 30.5 L451.5 28.5 L451.5 26.5 L450.5 26.5 L449.5 25.5 L448.5 25.5M454.5 25.5 L454.5 31.5M454.5 27.5 L456.5 26.5 L456.5 25.5 L458.5 25.5 L458.5 26.5 L459.5 27.5 L459.5 31.5M469.5 26.5 L477.5 26.5M469.5 28.5 L477.5 28.5M487.5 22.5 L492.5 22.5 L489.5 26.5 L490.5 26.5 L491.5 26.5 L492.5 26.5 L492.5 28.5 L492.5 30.5 L491.5 31.5 L490.5 31.5 L488.5 31.5 L487.5 31.5 L487.5 30.5 L486.5 29.5M497.5 22.5 L496.5 23.5 L495.5 24.5 L495.5 26.5 L495.5 27.5 L495.5 29.5 L496.5 31.5 L497.5 31.5 L498.5 31.5 L499.5 31.5 L500.5 29.5 L501.5 27.5 L501.5 26.5 L500.5 24.5 L499.5 23.5 L498.5 22.5 L497.5 22.5M504.5 30.5 L504.5 31.5 L504.5 30.5M508.5 22.5 L513.5 22.5 L510.5 26.5 L512.5 26.5 L513.5 26.5 L513.5 28.5 L513.5 30.5 L512.5 31.5 L511.5 31.5 L509.5 31.5 L508.5 31.5 L508.5 30.5 L507.5 29.5M527.5 26.5 L525.5 25.5 L524.5 25.5 L523.5 26.5 L522.5 26.5 L523.5 27.5 L524.5 28.5 L526.5 28.5 L527.5 28.5 L527.5 29.5 L527.5 30.5 L527.5 31.5 L525.5 31.5 L524.5 31.5 L523.5 31.5 L522.5 30.5M531.5 31.5 L530.5 31.5 L530.5 30.5 L531.5 31.5 L530.5 32.5 L530.5 33.5M546.5 23.5 L544.5 22.5 L543.5 22.5 L541.5 23.5 L541.5 24.5 L541.5 25.5 L541.5 26.5 L542.5 26.5 L545.5 27.5 L546.5 27.5 L546.5 28.5 L546.5 30.5 L546.5 31.5 L544.5 31.5 L543.5 31.5 L541.5 31.5 L541.5 30.5M549.5 22.5 L549.5 31.5M549.5 22.5 L555.5 31.5M555.5 22.5 L555.5 31.5M559.5 22.5 L559.5 31.5M559.5 22.5 L562.5 22.5 L564.5 23.5 L565.5 24.5 L565.5 25.5 L564.5 26.5 L562.5 26.5 L559.5 26.5M562.5 26.5 L565.5 31.5M576.5 22.5 L576.5 31.5M573.5 22.5 L579.5 22.5M581.5 22.5 L581.5 31.5M581.5 27.5 L582.5 26.5 L583.5 25.5 L584.5 25.5 L585.5 26.5 L586.5 27.5 L586.5 31.5M589.5 25.5 L589.5 31.5M589.5 28.5 L589.5 26.5 L590.5 26.5 L591.5 25.5 L592.5 25.5M594.5 28.5 L599.5 28.5 L599.5 27.5 L599.5 26.5 L598.5 26.5 L597.5 25.5 L596.5 25.5 L595.5 26.5 L594.5 26.5 L594.5 28.5 L594.5 30.5 L595.5 31.5 L596.5 31.5 L597.5 31.5 L598.5 31.5 L599.5 30.5M606.5 26.5 L605.5 25.5 L603.5 25.5 L602.5 26.5 L602.5 27.5 L603.5 28.5 L605.5 28.5 L606.5 28.5 L606.5 29.5 L606.5 30.5 L606.5 31.5 L605.5 31.5 L603.5 31.5 L602.5 31.5 L602.5 30.5M609.5 22.5 L609.5 31.5M609.5 27.5 L610.5 26.5 L611.5 25.5 L613.5 25.5 L613.5 26.5 L614.5 27.5 L614.5 31.5M619.5 25.5 L618.5 26.5 L617.5 26.5 L617.5 28.5 L617.5 30.5 L618.5 31.5 L619.5 31.5 L620.5 31.5 L621.5 31.5 L622.5 30.5 L622.5 28.5 L622.5 26.5 L621.5 26.5 L620.5 25.5 L619.5 25.5M625.5 22.5 L625.5 31.5M633.5 22.5 L633.5 31.5M633.5 26.5 L632.5 26.5 L631.5 25.5 L630.5 25.5 L629.5 26.5 L628.5 28.5 L629.5 30.5 L629.5 31.5 L630.5 31.5 L631.5 31.5 L632.5 31.5 L633.5 30.5M643.5 26.5 L651.5 26.5M643.5 28.5 L651.5 28.5M663.5 22.5 L662.5 23.5 L661.5 24.5 L661.5 26.5 L661.5 27.5 L661.5 29.5 L662.5 31.5 L663.5 31.5 L664.5 31.5 L665.5 31.5 L666.5 29.5 L666.5 27.5 L666.5 26.5 L666.5 24.5 L665.5 23.5 L664.5 22.5 L663.5 22.5M670.5 30.5 L669.5 31.5 L670.5 31.5 L670.5 30.5M676.5 22.5 L674.5 23.5 L674.5 24.5 L673.5 26.5 L673.5 27.5 L674.5 29.5 L674.5 31.5 L676.5 31.5 L677.5 31.5 L678.5 31.5 L679.5 29.5 L679.5 27.5 L679.5 26.5 L679.5 24.5 L678.5 23.5 L677.5 22.5 L676.5 22.5M684.5 22.5 L683.5 23.5 L682.5 24.5 L682.5 26.5 L682.5 27.5 L682.5 29.5 L683.5 31.5 L684.5 31.5 L685.5 31.5 L686.5 31.5 L687.5 29.5 L687.5 27.5 L687.5 26.5 L687.5 24.5 L686.5 23.5 L685.5 22.5 L684.5 22.5M692.5 22.5 L691.5 23.5 L690.5 23.5 L690.5 24.5 L691.5 25.5 L692.5 26.5 L693.5 26.5 L695.5 26.5 L695.5 27.5 L696.5 28.5 L696.5 29.5 L695.5 30.5 L695.5 31.5 L694.5 31.5 L692.5 31.5 L691.5 31.5 L690.5 30.5 L690.5 29.5 L690.5 28.5 L690.5 27.5 L691.5 26.5 L693.5 26.5 L694.5 26.5 L695.5 25.5 L695.5 24.5 L695.5 23.5 L694.5 22.5 L692.5 22.5" stroke="#000000" stroke-width="1" fill="none" />
<path d="M105.5 44.5 L107.5 53.5M109.5 44.5 L107.5 53.5M109.5 44.5 L111.5 53.5M113.5 44.5 L111.5 53.5M116.5 44.5 L116.5 45.5 L116.5 44.5M116.5 47.5 L116.5 53.5M119.5 47.5 L119.5 53.5M119.5 49.5 L121.5 48.5 L121.5 47.5 L123.5 47.5 L124.5 48.5 L124.5 49.5 L124.5 53.5M132.5 44.5 L132.5 53.5M132.5 48.5 L131.5 48.5 L130.5 47.5 L129.5 47.5 L128.5 48.5 L127.5 48.5 L127.5 50.5 L127.5 52.5 L128.5 53.5 L129.5 53.5 L130.5 53.5 L131.5 53.5 L132.5 52.5M142.5 44.5 L142.5 53.5M142.5 44.5 L145.5 44.5 L146.5 45.5 L147.5 45.5 L148.5 46.5 L148.5 48.5 L148.5 50.5 L148.5 51.5 L147.5 52.5 L146.5 53.5 L145.5 53.5 L142.5 53.5M151.5 44.5 L151.5 45.5 L151.5 44.5M151.5 47.5 L151.5 53.5M154.5 47.5 L154.5 53.5M154.5 50.5 L155.5 48.5 L156.5 48.5 L156.5 47.5 L158.5 47.5M159.5 50.5 L164.5 50.5 L164.5 49.5 L164.5 48.5 L163.5 47.5 L161.5 47.5 L161.5 48.5 L160.5 48.5 L159.5 50.5 L160.5 52.5 L161.5 53.5 L163.5 53.5 L164.5 53.5 L164.5 52.5M172.5 48.5 L171.5 48.5 L170.5 47.5 L169.5 47.5 L168.5 48.5 L167.5 48.5 L167.5 50.5 L167.5 52.5 L168.5 53.5 L169.5 53.5 L170.5 53.5 L171.5 53.5 L172.5 52.5M175.5 44.5 L175.5 51.5 L176.5 53.5 L177.5 53.5M174.5 47.5 L177.5 47.5M180.5 44.5 L180.5 45.5 L180.5 44.5M180.5 47.5 L180.5 53.5M185.5 47.5 L184.5 48.5 L183.5 48.5 L183.5 50.5 L183.5 52.5 L184.5 53.5 L185.5 53.5 L186.5 53.5 L187.5 53.5 L188.5 52.5 L188.5 50.5 L188.5 48.5 L187.5 48.5 L186.5 47.5 L185.5 47.5M191.5 47.5 L191.5 53.5M191.5 49.5 L193.5 48.5 L193.5 47.5 L195.5 47.5 L196.5 48.5 L196.5 49.5 L196.5 53.5M209.5 42.5 L208.5 43.5 L207.5 45.5 L207.5 46.5 L206.5 48.5 L206.5 50.5 L207.5 52.5 L207.5 54.5 L208.5 55.5 L209.5 56.5M217.5 44.5 L217.5 53.5M217.5 48.5 L216.5 48.5 L215.5 47.5 L214.5 47.5 L213.5 48.5 L212.5 48.5 L212.5 50.5 L212.5 52.5 L213.5 53.5 L214.5 53.5 L215.5 53.5 L216.5 53.5 L217.5 52.5M220.5 50.5 L225.5 50.5 L225.5 49.5 L224.5 48.5 L223.5 47.5 L222.5 47.5 L221.5 48.5 L220.5 48.5 L220.5 50.5 L220.5 52.5 L221.5 53.5 L222.5 53.5 L223.5 53.5 L224.5 53.5 L225.5 52.5M232.5 47.5 L232.5 54.5 L232.5 55.5 L231.5 56.5 L229.5 56.5 L228.5 56.5M232.5 48.5 L231.5 48.5 L231.5 47.5 L229.5 47.5 L228.5 48.5 L227.5 50.5 L228.5 52.5 L228.5 53.5 L229.5 53.5 L231.5 53.5 L232.5 52.5M235.5 42.5 L236.5 43.5 L237.5 45.5 L238.5 46.5 L238.5 48.5 L238.5 50.5 L238.5 52.5 L237.5 54.5 L236.5 55.5 L235.5 56.5" stroke="#ff0000" stroke-width="1" fill="none" />
<path d="M48.5 56.5 L46.5 56.5 L45.5 58.5 L45.5 60.5 L45.5 61.5 L45.5 63.5 L46.5 64.5 L48.5 65.5 L50.5 64.5 L51.5 63.5 L51.5 61.5 L51.5 60.5 L51.5 58.5 L50.5 56.5 L48.5 56.5" stroke="#ff0000" stroke-width="1" fill="none" />
<path d="M107.5 58.5 L108.5 57.5 L109.5 56.5 L109.5 65.5M116.5 56.5 L115.5 56.5 L114.5 58.5 L114.5 60.5 L114.5 61.5 L114.5 63.5 L115.5 64.5 L116.5 65.5 L117.5 65.5 L119.5 64.5 L119.5 63.5 L120.5 61.5 L120.5 60.5 L119.5 58.5 L119.5 56.5 L117.5 56.5 L116.5 56.5M125.5 56.5 L124.5 56.5 L123.5 58.5 L122.5 60.5 L122.5 61.5 L123.5 63.5 L124.5 64.5 L125.5 65.5 L126.5 65.5 L127.5 64.5 L128.5 63.5 L128.5 61.5 L128.5 60.5 L128.5 58.5 L127.5 56.5 L126.5 56.5 L125.5 56.5" stroke="#ff0000" stroke-width="1" fill="none" />
<path d="M175.5 58.5 L175.5 57.5 L176.5 56.5 L177.5 56.5 L178.5 56.5 L179.5 56.5 L179.5 57.5 L180.5 58.5 L180.5 59.5 L179.5 59.5 L179.5 61.5 L174.5 65.5 L180.5 65.5M185.5 56.5 L184.5 56.5 L183.5 58.5 L183.5 60.5 L183.5 61.5 L183.5 63.5 L184.5 64.5 L185.5 65.5 L186.5 65.5 L187.5 64.5 L188.5 63.5 L189.5 61.5 L189.5 60.5 L188.5 58.5 L187.5 56.5 L186.5 56.5 L185.5 56.5M194.5 56.5 L193.5 56.5 L192.5 58.5 L191.5 60.5 L191.5 61.5 L192.5 63.5 L193.5 64.5 L194.5 65.5 L195.5 65.5 L196.5 64.5 L197.5 63.5 L197.5 61.5 L197.5 60.5 L197.5 58.5 L196.5 56.5 L195.5 56.5 L194.5 56.5" stroke="#ff0000" stroke-width="1" fill="none" />
<path d="M244.5 56.5 L249.5 56.5 L246.5 59.5 L248.5 59.5 L248.5 60.5 L249.5 60.5 L249.5 62.5 L249.5 64.5 L248.5 64.5 L247.5 65.5 L245.5 65.5 L244.5 64.5 L243.5 63.5M254.5 56.5 L253.5 56.5 L252.5 58.5 L252.5 60.5 L252.5 61.5 L252.5 63.5 L253.5 64.5 L254.5 65.5 L255.5 65.5 L256.5 64.5 L257.5 63.5 L258.5 61.5 L258.5 60.5 L257.5 58.5 L256.5 56.5 L255.5 56.5 L254.5 56.5M263.5 56.5 L261.5 56.5 L261.5 58.5 L260.5 60.5 L260.5 61.5 L261.5 63.5 L261.5 64.5 L263.5 65.5 L264.5 65.5 L265.5 64.5 L266.5 63.5 L266.5 61.5 L266.5 60.5 L266.5 58.5 L265.5 56.5 L264.5 56.5 L263.5 56.5" stroke="#ff0000" stroke-width="1" fill="none" />
<path d="M48.5 360.5 L46.5 360.5 L45.5 362.5 L45.5 364.5 L45.5 365.5 L45.5 367.5 L46.5 368.5 L48.5 369.5 L50.5 368.5 L51.5 367.5 L51.5 365.5 L51.5 364.5 L51.5 362.5 L50.5 360.5 L48.5 360.5" stroke="#000000" stroke-width="1" fill="none" />
<path d="M112.5 360.5 L108.5 360.5 L107.5 364.5 L108.5 363.5 L109.5 363.5 L110.5 363.5 L112.5 363.5 L113.5 364.5 L113.5 366.5 L113.5 368.5 L112.5 368.5 L110.5 369.5 L109.5 369.5 L108.5 368.5 L107.5 368.5 L107.5 367.5" stroke="#000000" stroke-width="1" fill="none" />
<path d="M166.5 362.5 L167.5 361.5 L168.5 360.5 L168.5 369.5M176.5 360.5 L175.5 360.5 L174.5 362.5 L173.5 364.5 L173.5 365.5 L174.5 367.5 L175.5 368.5 L176.5 369.5 L177.5 369.5 L178.5 368.5 L179.5 367.5 L179.5 365.5 L179.5 364.5 L179.5 362.5 L178.5 360.5 L177.5 360.5 L176.5 360.5" stroke="#000000" stroke-width="1" fill="none" />
<path d="M228.5 362.5 L229.5 361.5 L230.5 360.5 L230.5 369.5M240.5 360.5 L236.5 360.5 L236.5 364.5 L236.5 363.5 L237.5 363.5 L239.5 363.5 L240.5 363.5 L241.5 364.5 L241.5 366.5 L241.5 368.5 L240.5 368.5 L239.5 369.5 L237.5 369.5 L236.5 368.5 L235.5 367.5" stroke="#000000" stroke-width="1" fill="none" />
<path d="M289.5 362.5 L290.5 361.5 L290.5 360.5 L291.5 360.5 L293.5 360.5 L294.5 361.5 L294.5 362.5 L294.5 363.5 L293.5 365.5 L289.5 369.5 L295.5 369.5M300.5 360.5 L299.5 360.5 L298.5 362.5 L297.5 364.5 L297.5 365.5 L298.5 367.5 L299.5 368.5 L300.5 369.5 L301.5 369.5 L302.5 368.5 L303.5 367.5 L303.5 365.5 L303.5 364.5 L303.5 362.5 L302.5 360.5 L301.5 360.5 L300.5 360.5" stroke="#000000" stroke-width="1" fill="none" />
<path d="M109.5 376.5 L111.5 385.5M113.5 376.5 L111.5 385.5M113.5 376.5 L116.5 385.5M118.5 376.5 L116.5 385.5M120.5 376.5 L121.5 376.5 L120.5 376.5M120.5 379.5 L120.5 385.5M124.5 379.5 L124.5 385.5M124.5 381.5 L125.5 379.5 L126.5 379.5 L127.5 379.5 L128.5 379.5 L128.5 381.5 L128.5 385.5M136.5 376.5 L136.5 385.5M136.5 380.5 L135.5 379.5 L133.5 379.5 L132.5 379.5 L132.5 380.5 L131.5 382.5 L132.5 384.5 L133.5 385.5 L135.5 385.5 L135.5 384.5 L136.5 384.5M152.5 377.5 L151.5 376.5 L150.5 376.5 L148.5 376.5 L147.5 376.5 L146.5 377.5 L146.5 378.5 L146.5 379.5 L147.5 379.5 L148.5 380.5 L150.5 381.5 L151.5 381.5 L151.5 382.5 L152.5 382.5 L152.5 384.5 L151.5 384.5 L150.5 385.5 L148.5 385.5 L147.5 384.5 L146.5 384.5M155.5 379.5 L155.5 388.5M155.5 380.5 L156.5 379.5 L158.5 379.5 L159.5 379.5 L159.5 380.5 L160.5 382.5 L159.5 384.5 L158.5 385.5 L156.5 385.5 L156.5 384.5 L155.5 384.5M162.5 382.5 L167.5 382.5 L167.5 381.5 L167.5 380.5 L167.5 379.5 L166.5 379.5 L164.5 379.5 L163.5 380.5 L162.5 382.5 L163.5 384.5 L164.5 384.5 L164.5 385.5 L166.5 385.5 L167.5 384.5M170.5 382.5 L175.5 382.5 L175.5 381.5 L175.5 380.5 L174.5 379.5 L173.5 379.5 L172.5 379.5 L171.5 379.5 L170.5 380.5 L170.5 382.5 L170.5 384.5 L171.5 384.5 L172.5 385.5 L173.5 385.5 L174.5 384.5 L175.5 384.5M183.5 376.5 L183.5 385.5M183.5 380.5 L182.5 379.5 L181.5 379.5 L180.5 379.5 L179.5 379.5 L178.5 380.5 L177.5 382.5 L178.5 384.5 L179.5 384.5 L180.5 385.5 L181.5 385.5 L182.5 384.5 L183.5 384.5M196.5 374.5 L195.5 375.5 L194.5 376.5 L193.5 378.5 L193.5 380.5 L193.5 382.5 L193.5 384.5 L194.5 386.5 L195.5 387.5 L196.5 388.5M199.5 379.5 L199.5 385.5M199.5 381.5 L200.5 379.5 L201.5 379.5 L202.5 379.5 L203.5 379.5 L203.5 381.5 L203.5 385.5M203.5 381.5 L204.5 379.5 L205.5 379.5 L207.5 379.5 L208.5 381.5 L208.5 385.5M215.5 380.5 L215.5 379.5 L214.5 379.5 L212.5 379.5 L211.5 379.5 L211.5 380.5 L211.5 381.5 L212.5 382.5 L214.5 382.5 L215.5 382.5 L215.5 383.5 L215.5 384.5 L214.5 385.5 L212.5 385.5 L211.5 384.5M219.5 376.5 L223.5 376.5M226.5 374.5 L227.5 374.5 L227.5 373.5 L227.5 378.5M231.5 374.5 L232.5 375.5 L233.5 376.5 L233.5 378.5 L234.5 380.5 L234.5 382.5 L233.5 384.5 L233.5 386.5 L232.5 387.5 L231.5 388.5" stroke="#000000" stroke-width="1" fill="none" />
<path d="M26.5 342.5 L25.5 343.5 L24.5 344.5 L23.5 346.5 L23.5 347.5 L24.5 349.5 L25.5 351.5 L26.5 351.5 L27.5 351.5 L28.5 351.5 L29.5 349.5 L29.5 347.5 L29.5 346.5 L29.5 344.5 L28.5 343.5 L27.5 342.5 L26.5 342.5M33.5 350.5 L32.5 351.5 L33.5 351.5 L33.5 350.5M38.5 342.5 L37.5 343.5 L36.5 344.5 L36.5 346.5 L36.5 347.5 L36.5 349.5 L37.5 351.5 L38.5 351.5 L39.5 351.5 L41.5 351.5 L41.5 349.5 L42.5 347.5 L42.5 346.5 L41.5 344.5 L41.5 343.5 L39.5 342.5 L38.5 342.5" stroke="#000000" stroke-width="1" fill="none" />
<path d="M26.5 277.5 L25.5 277.5 L24.5 279.5 L23.5 281.5 L23.5 282.5 L24.5 284.5 L25.5 285.5 L26.5 286.5 L27.5 286.5 L28.5 285.5 L29.5 284.5 L29.5 282.5 L29.5 281.5 L29.5 279.5 L28.5 277.5 L27.5 277.5 L26.5 277.5M33.5 285.5 L32.5 285.5 L33.5 286.5 L33.5 285.5M41.5 277.5 L37.5 277.5 L36.5 281.5 L37.5 280.5 L38.5 280.5 L39.5 280.5 L41.5 280.5 L41.5 281.5 L42.5 283.5 L41.5 285.5 L39.5 286.5 L38.5 286.5 L37.5 285.5 L36.5 285.5 L36.5 284.5" stroke="#000000" stroke-width="1" fill="none" />
<path d="M25.5 209.5 L25.5 208.5 L27.5 207.5 L27.5 216.5M33.5 215.5 L32.5 215.5 L33.5 216.5 L33.5 215.5M38.5 207.5 L37.5 207.5 L36.5 209.5 L36.5 211.5 L36.5 212.5 L36.5 214.5 L37.5 215.5 L38.5 216.5 L39.5 216.5 L41.5 215.5 L41.5 214.5 L42.5 212.5 L42.5 211.5 L41.5 209.5 L41.5 207.5 L39.5 207.5 L38.5 207.5" stroke="#000000" stroke-width="1" fill="none" />
<path d="M25.5 139.5 L25.5 138.5 L27.5 137.5 L27.5 146.5M33.5 145.5 L32.5 145.5 L33.5 146.5 L33.5 145.5M41.5 137.5 L37.5 137.5 L36.5 141.5 L37.5 140.5 L38.5 140.5 L39.5 140.5 L41.5 140.5 L41.5 141.5 L42.5 143.5 L41.5 145.5 L39.5 146.5 L38.5 146.5 L37.5 145.5 L36.5 145.5 L36.5 144.5" stroke="#000000" stroke-width="1" fill="none" />
<path d="M24.5 73.5 L24.5 72.5 L24.5 71.5 L25.5 71.5 L27.5 71.5 L28.5 71.5 L29.5 72.5 L29.5 73.5 L28.5 74.5 L28.5 75.5 L23.5 79.5 L29.5 79.5M33.5 79.5 L32.5 79.5 L33.5 79.5M38.5 71.5 L37.5 71.5 L36.5 72.5 L36.5 74.5 L36.5 76.5 L36.5 78.5 L37.5 79.5 L38.5 79.5 L39.5 79.5 L41.5 79.5 L41.5 78.5 L42.5 76.5 L42.5 74.5 L41.5 72.5 L41.5 71.5 L39.5 71.5 L38.5 71.5" stroke="#000000" stroke-width="1" fill="none" />
<path d="M5.5 243.5 L11.5 248.5M5.5 248.5 L5.5 243.5M11.5 248.5 L11.5 243.5M1.5 230.5 L2.5 231.5 L3.5 232.5 L4.5 233.5 L7.5 233.5 L8.5 233.5 L10.5 233.5 L12.5 232.5 L13.5 231.5 L14.5 230.5M2.5 227.5 L11.5 227.5M5.5 223.5 L10.5 227.5M8.5 226.5 L11.5 223.5M5.5 220.5 L11.5 220.5M7.5 220.5 L6.5 219.5 L5.5 218.5 L5.5 217.5 L6.5 216.5 L7.5 216.5 L11.5 216.5M7.5 216.5 L6.5 214.5 L5.5 214.5 L5.5 212.5 L6.5 211.5 L7.5 211.5 L11.5 211.5M2.5 199.5 L11.5 202.5M2.5 199.5 L11.5 195.5M8.5 201.5 L8.5 197.5M4.5 187.5 L4.5 188.5 L3.5 189.5 L2.5 190.5 L2.5 191.5 L3.5 192.5 L4.5 193.5 L6.5 194.5 L8.5 194.5 L9.5 193.5 L10.5 193.5 L11.5 192.5 L11.5 191.5 L11.5 190.5 L11.5 189.5 L10.5 188.5 L9.5 187.5 L8.5 187.5M8.5 190.5 L8.5 187.5M2.5 184.5 L11.5 184.5M11.5 184.5 L11.5 179.5M1.5 178.5 L2.5 177.5 L3.5 176.5 L4.5 175.5 L7.5 175.5 L8.5 175.5 L10.5 175.5 L12.5 176.5 L13.5 177.5 L14.5 178.5" stroke="#000000" stroke-width="1" fill="none" />
<path d="M355.5 44.5 L359.5 53.5M362.5 44.5 L359.5 53.5M364.5 50.5 L369.5 50.5 L369.5 49.5 L368.5 48.5 L367.5 47.5 L366.5 47.5 L365.5 48.5 L364.5 48.5 L364.5 50.5 L364.5 52.5 L365.5 53.5 L366.5 53.5 L367.5 53.5 L368.5 53.5 L369.5 52.5M372.5 47.5 L372.5 53.5M372.5 50.5 L372.5 48.5 L373.5 48.5 L374.5 47.5 L375.5 47.5M377.5 44.5 L377.5 51.5 L378.5 53.5 L379.5 53.5 L380.5 53.5M376.5 47.5 L379.5 47.5M382.5 44.5 L382.5 45.5 L383.5 44.5 L382.5 44.5M382.5 47.5 L382.5 53.5M390.5 48.5 L389.5 48.5 L388.5 47.5 L387.5 47.5 L386.5 48.5 L385.5 48.5 L385.5 50.5 L385.5 52.5 L386.5 53.5 L387.5 53.5 L388.5 53.5 L389.5 53.5 L390.5 52.5M398.5 47.5 L398.5 53.5M398.5 48.5 L397.5 48.5 L396.5 47.5 L395.5 47.5 L394.5 48.5 L393.5 48.5 L393.5 50.5 L393.5 52.5 L394.5 53.5 L395.5 53.5 L396.5 53.5 L397.5 53.5 L398.5 52.5M401.5 44.5 L401.5 53.5M410.5 47.5 L413.5 53.5M415.5 47.5 L413.5 53.5M417.5 50.5 L423.5 50.5 L423.5 49.5 L422.5 48.5 L421.5 47.5 L420.5 47.5 L419.5 48.5 L418.5 48.5 L417.5 50.5 L418.5 52.5 L419.5 53.5 L420.5 53.5 L421.5 53.5 L422.5 53.5 L423.5 52.5M425.5 44.5 L425.5 53.5M431.5 47.5 L430.5 48.5 L429.5 48.5 L428.5 50.5 L429.5 52.5 L430.5 53.5 L431.5 53.5 L432.5 53.5 L433.5 53.5 L433.5 52.5 L434.5 50.5 L433.5 48.5 L432.5 47.5 L431.5 47.5M441.5 48.5 L440.5 47.5 L439.5 47.5 L438.5 48.5 L437.5 48.5 L436.5 50.5 L437.5 52.5 L438.5 53.5 L439.5 53.5 L440.5 53.5 L441.5 53.5 L441.5 52.5M444.5 44.5 L444.5 45.5 L445.5 44.5 L444.5 44.5M444.5 47.5 L444.5 53.5M448.5 44.5 L448.5 51.5 L449.5 53.5 L450.5 53.5M447.5 47.5 L450.5 47.5M452.5 47.5 L455.5 53.5M457.5 47.5 L455.5 53.5 L454.5 55.5 L453.5 56.5 L452.5 56.5M469.5 42.5 L468.5 43.5 L468.5 45.5 L467.5 46.5 L466.5 48.5 L466.5 50.5 L467.5 52.5 L468.5 54.5 L468.5 55.5 L469.5 56.5M472.5 47.5 L472.5 53.5M472.5 49.5 L473.5 48.5 L474.5 47.5 L476.5 47.5 L476.5 48.5 L477.5 49.5 L477.5 53.5M477.5 49.5 L478.5 48.5 L479.5 47.5 L480.5 47.5 L481.5 48.5 L481.5 49.5 L481.5 53.5M489.5 48.5 L487.5 47.5 L486.5 47.5 L485.5 48.5 L484.5 48.5 L485.5 49.5 L486.5 50.5 L488.5 50.5 L489.5 50.5 L489.5 51.5 L489.5 52.5 L489.5 53.5 L487.5 53.5 L486.5 53.5 L485.5 53.5 L484.5 52.5M492.5 44.5 L497.5 44.5M500.5 42.5 L501.5 41.5 L501.5 46.5M505.5 42.5 L505.5 43.5 L506.5 45.5 L507.5 46.5 L508.5 48.5 L508.5 50.5 L507.5 52.5 L506.5 54.5 L505.5 55.5 L505.5 56.5" stroke="#ff0000" stroke-width="1" fill="none" />
<path d="M315.5 61.5 L324.5 61.5M328.5 58.5 L328.5 57.5 L330.5 56.5 L330.5 65.5M337.5 56.5 L336.5 56.5 L335.5 58.5 L335.5 60.5 L335.5 61.5 L335.5 63.5 L336.5 64.5 L337.5 65.5 L338.5 65.5 L339.5 64.5 L340.5 63.5 L341.5 61.5 L341.5 60.5 L340.5 58.5 L339.5 56.5 L338.5 56.5 L337.5 56.5" stroke="#ff0000" stroke-width="1" fill="none" />
<path d="M372.5 61.5 L380.5 61.5M388.5 56.5 L383.5 56.5 L383.5 60.5 L383.5 59.5 L385.5 59.5 L386.5 59.5 L387.5 59.5 L388.5 60.5 L388.5 62.5 L388.5 64.5 L387.5 64.5 L386.5 65.5 L385.5 65.5 L383.5 64.5 L383.5 63.5" stroke="#ff0000" stroke-width="1" fill="none" />
<path d="M432.5 56.5 L430.5 56.5 L429.5 58.5 L429.5 60.5 L429.5 61.5 L429.5 63.5 L430.5 64.5 L432.5 65.5 L434.5 64.5 L435.5 63.5 L435.5 61.5 L435.5 60.5 L435.5 58.5 L434.5 56.5 L432.5 56.5" stroke="#ff0000" stroke-width="1" fill="none" />
<path d="M486.5 56.5 L482.5 56.5 L481.5 60.5 L482.5 59.5 L483.5 59.5 L484.5 59.5 L486.5 59.5 L487.5 60.5 L487.5 62.5 L487.5 64.5 L486.5 64.5 L484.5 65.5 L483.5 65.5 L482.5 64.5 L481.5 64.5 L481.5 63.5" stroke="#ff0000" stroke-width="1" fill="none" />
<path d="M530.5 58.5 L531.5 57.5 L532.5 56.5 L532.5 65.5M540.5 56.5 L539.5 56.5 L538.5 58.5 L537.5 60.5 L537.5 61.5 L538.5 63.5 L539.5 64.5 L540.5 65.5 L541.5 65.5 L542.5 64.5 L543.5 63.5 L543.5 61.5 L543.5 60.5 L543.5 58.5 L542.5 56.5 L541.5 56.5 L540.5 56.5" stroke="#ff0000" stroke-width="1" fill="none" />
<path d="M313.5 360.5 L312.5 360.5 L311.5 362.5 L310.5 364.5 L310.5 365.5 L311.5 367.5 L312.5 368.5 L313.5 369.5 L314.5 369.5 L315.5 368.5 L316.5 367.5 L316.5 365.5 L316.5 364.5 L316.5 362.5 L315.5 360.5 L314.5 360.5 L313.5 360.5M320.5 368.5 L319.5 368.5 L320.5 369.5 L320.5 368.5M325.5 360.5 L324.5 360.5 L323.5 362.5 L323.5 364.5 L323.5 365.5 L323.5 367.5 L324.5 368.5 L325.5 369.5 L326.5 369.5 L328.5 368.5 L328.5 367.5 L329.5 365.5 L329.5 364.5 L328.5 362.5 L328.5 360.5 L326.5 360.5 L325.5 360.5M334.5 360.5 L333.5 360.5 L332.5 362.5 L331.5 364.5 L331.5 365.5 L332.5 367.5 L333.5 368.5 L334.5 369.5 L335.5 369.5 L336.5 368.5 L337.5 367.5 L337.5 365.5 L337.5 364.5 L337.5 362.5 L336.5 360.5 L335.5 360.5 L334.5 360.5M341.5 362.5 L342.5 361.5 L343.5 360.5 L343.5 369.5" stroke="#000000" stroke-width="1" fill="none" />
<path d="M365.5 360.5 L364.5 360.5 L363.5 362.5 L362.5 364.5 L362.5 365.5 L363.5 367.5 L364.5 368.5 L365.5 369.5 L366.5 369.5 L367.5 368.5 L368.5 367.5 L368.5 365.5 L368.5 364.5 L368.5 362.5 L367.5 360.5 L366.5 360.5 L365.5 360.5M372.5 368.5 L371.5 368.5 L372.5 369.5 L372.5 368.5M377.5 360.5 L376.5 360.5 L375.5 362.5 L375.5 364.5 L375.5 365.5 L375.5 367.5 L376.5 368.5 L377.5 369.5 L378.5 369.5 L380.5 368.5 L380.5 367.5 L381.5 365.5 L381.5 364.5 L380.5 362.5 L380.5 360.5 L378.5 360.5 L377.5 360.5M385.5 362.5 L385.5 361.5 L387.5 360.5 L387.5 369.5M394.5 360.5 L393.5 360.5 L392.5 362.5 L392.5 364.5 L392.5 365.5 L392.5 367.5 L393.5 368.5 L394.5 369.5 L395.5 369.5 L396.5 368.5 L397.5 367.5 L398.5 365.5 L398.5 364.5 L397.5 362.5 L396.5 360.5 L395.5 360.5 L394.5 360.5" stroke="#000000" stroke-width="1" fill="none" />
<path d="M417.5 360.5 L416.5 360.5 L415.5 362.5 L414.5 364.5 L414.5 365.5 L415.5 367.5 L416.5 368.5 L417.5 369.5 L418.5 369.5 L419.5 368.5 L420.5 367.5 L420.5 365.5 L420.5 364.5 L420.5 362.5 L419.5 360.5 L418.5 360.5 L417.5 360.5M424.5 368.5 L423.5 368.5 L424.5 369.5 L424.5 368.5M428.5 362.5 L429.5 361.5 L430.5 360.5 L430.5 369.5M438.5 360.5 L437.5 360.5 L436.5 362.5 L435.5 364.5 L435.5 365.5 L436.5 367.5 L437.5 368.5 L438.5 369.5 L439.5 369.5 L440.5 368.5 L441.5 367.5 L441.5 365.5 L441.5 364.5 L441.5 362.5 L440.5 360.5 L439.5 360.5 L438.5 360.5M446.5 360.5 L445.5 360.5 L444.5 362.5 L444.5 364.5 L444.5 365.5 L444.5 367.5 L445.5 368.5 L446.5 369.5 L447.5 369.5 L448.5 368.5 L449.5 367.5 L450.5 365.5 L450.5 364.5 L449.5 362.5 L448.5 360.5 L447.5 360.5 L446.5 360.5" stroke="#000000" stroke-width="1" fill="none" />
<path d="M468.5 362.5 L468.5 361.5 L470.5 360.5 L470.5 369.5M476.5 368.5 L475.5 368.5 L476.5 369.5 L476.5 368.5M481.5 360.5 L480.5 360.5 L479.5 362.5 L479.5 364.5 L479.5 365.5 L479.5 367.5 L480.5 368.5 L481.5 369.5 L482.5 369.5 L484.5 368.5 L484.5 367.5 L485.5 365.5 L485.5 364.5 L484.5 362.5 L484.5 360.5 L482.5 360.5 L481.5 360.5M490.5 360.5 L489.5 360.5 L488.5 362.5 L487.5 364.5 L487.5 365.5 L488.5 367.5 L489.5 368.5 L490.5 369.5 L491.5 369.5 L492.5 368.5 L493.5 367.5 L493.5 365.5 L493.5 364.5 L493.5 362.5 L492.5 360.5 L491.5 360.5 L490.5 360.5M498.5 360.5 L497.5 360.5 L496.5 362.5 L496.5 364.5 L496.5 365.5 L496.5 367.5 L497.5 368.5 L498.5 369.5 L499.5 369.5 L500.5 368.5 L501.5 367.5 L502.5 365.5 L502.5 364.5 L501.5 362.5 L500.5 360.5 L499.5 360.5 L498.5 360.5" stroke="#000000" stroke-width="1" fill="none" />
<path d="M515.5 362.5 L516.5 361.5 L517.5 360.5 L517.5 369.5M525.5 360.5 L524.5 360.5 L523.5 362.5 L523.5 364.5 L523.5 365.5 L523.5 367.5 L524.5 368.5 L525.5 369.5 L526.5 369.5 L527.5 368.5 L528.5 367.5 L528.5 365.5 L528.5 364.5 L528.5 362.5 L527.5 360.5 L526.5 360.5 L525.5 360.5M532.5 368.5 L531.5 368.5 L532.5 369.5 L532.5 368.5M538.5 360.5 L536.5 360.5 L536.5 362.5 L535.5 364.5 L535.5 365.5 L536.5 367.5 L536.5 368.5 L538.5 369.5 L539.5 369.5 L540.5 368.5 L541.5 367.5 L541.5 365.5 L541.5 364.5 L541.5 362.5 L540.5 360.5 L539.5 360.5 L538.5 360.5M546.5 360.5 L545.5 360.5 L544.5 362.5 L544.5 364.5 L544.5 365.5 L544.5 367.5 L545.5 368.5 L546.5 369.5 L547.5 369.5 L548.5 368.5 L549.5 367.5 L549.5 365.5 L549.5 364.5 L549.5 362.5 L548.5 360.5 L547.5 360.5 L546.5 360.5M555.5 360.5 L553.5 360.5 L552.5 362.5 L552.5 364.5 L552.5 365.5 L552.5 367.5 L553.5 368.5 L555.5 369.5 L557.5 368.5 L557.5 367.5 L558.5 365.5 L558.5 364.5 L557.5 362.5 L557.5 360.5 L555.5 360.5" stroke="#000000" stroke-width="1" fill="none" />
<path d="M426.5 377.5 L425.5 376.5 L424.5 376.5 L422.5 376.5 L421.5 376.5 L420.5 377.5 L420.5 378.5 L420.5 379.5 L421.5 379.5 L422.5 380.5 L424.5 381.5 L425.5 381.5 L425.5 382.5 L426.5 382.5 L426.5 384.5 L425.5 384.5 L424.5 385.5 L422.5 385.5 L421.5 384.5 L420.5 384.5M429.5 376.5 L429.5 385.5M429.5 376.5 L435.5 385.5M435.5 376.5 L435.5 385.5M438.5 376.5 L438.5 385.5M438.5 376.5 L442.5 376.5 L443.5 376.5 L444.5 377.5 L444.5 378.5 L444.5 379.5 L443.5 380.5 L442.5 380.5 L438.5 380.5M441.5 380.5 L444.5 385.5" stroke="#000000" stroke-width="1" fill="none" />
<path d="M643.5 46.5 L643.5 45.5 L642.5 45.5 L641.5 44.5 L639.5 44.5 L639.5 45.5 L638.5 45.5 L637.5 46.5 L637.5 48.5 L637.5 50.5 L637.5 51.5 L638.5 52.5 L639.5 53.5 L641.5 53.5 L642.5 53.5 L643.5 52.5 L643.5 51.5M648.5 47.5 L647.5 48.5 L646.5 48.5 L646.5 50.5 L646.5 52.5 L647.5 53.5 L648.5 53.5 L649.5 53.5 L650.5 53.5 L651.5 52.5 L651.5 50.5 L651.5 48.5 L650.5 48.5 L649.5 47.5 L648.5 47.5M654.5 47.5 L654.5 53.5M654.5 50.5 L655.5 48.5 L656.5 47.5 L658.5 47.5M660.5 47.5 L660.5 53.5M660.5 50.5 L660.5 48.5 L661.5 48.5 L662.5 47.5 L663.5 47.5M665.5 50.5 L670.5 50.5 L670.5 49.5 L669.5 48.5 L668.5 47.5 L667.5 47.5 L666.5 48.5 L665.5 48.5 L665.5 50.5 L665.5 52.5 L666.5 53.5 L667.5 53.5 L668.5 53.5 L669.5 53.5 L670.5 52.5M673.5 44.5 L673.5 53.5M681.5 47.5 L681.5 53.5M681.5 48.5 L680.5 48.5 L679.5 47.5 L678.5 47.5 L677.5 48.5 L676.5 48.5 L676.5 50.5 L676.5 52.5 L677.5 53.5 L678.5 53.5 L679.5 53.5 L680.5 53.5 L681.5 52.5M684.5 44.5 L684.5 51.5 L685.5 53.5 L686.5 53.5 L687.5 53.5M683.5 47.5 L686.5 47.5M689.5 44.5 L689.5 45.5 L690.5 44.5 L689.5 44.5M689.5 47.5 L689.5 53.5M694.5 47.5 L693.5 48.5 L692.5 48.5 L692.5 50.5 L692.5 52.5 L693.5 53.5 L694.5 53.5 L695.5 53.5 L696.5 53.5 L697.5 52.5 L698.5 50.5 L697.5 48.5 L696.5 48.5 L695.5 47.5 L694.5 47.5M700.5 47.5 L700.5 53.5M700.5 49.5 L702.5 48.5 L703.5 47.5 L704.5 47.5 L705.5 48.5 L705.5 49.5 L705.5 53.5" stroke="#ff0000" stroke-width="1" fill="none" />
<path d="M561.5 56.5 L560.5 56.5 L559.5 58.5 L559.5 60.5 L559.5 61.5 L559.5 63.5 L560.5 64.5 L561.5 65.5 L562.5 65.5 L563.5 64.5 L564.5 63.5 L565.5 61.5 L565.5 60.5 L564.5 58.5 L563.5 56.5 L562.5 56.5 L561.5 56.5M568.5 64.5 L568.5 65.5 L568.5 64.5M574.5 56.5 L573.5 56.5 L572.5 58.5 L571.5 60.5 L571.5 61.5 L572.5 63.5 L573.5 64.5 L574.5 65.5 L575.5 65.5 L576.5 64.5 L577.5 63.5 L577.5 61.5 L577.5 60.5 L577.5 58.5 L576.5 56.5 L575.5 56.5 L574.5 56.5" stroke="#ff0000" stroke-width="1" fill="none" />
<path d="M603.5 56.5 L602.5 56.5 L601.5 58.5 L600.5 60.5 L600.5 61.5 L601.5 63.5 L602.5 64.5 L603.5 65.5 L604.5 65.5 L605.5 64.5 L606.5 63.5 L606.5 61.5 L606.5 60.5 L606.5 58.5 L605.5 56.5 L604.5 56.5 L603.5 56.5M610.5 64.5 L609.5 64.5 L610.5 65.5 L610.5 64.5M613.5 58.5 L614.5 57.5 L614.5 56.5 L615.5 56.5 L617.5 56.5 L618.5 56.5 L618.5 57.5 L618.5 58.5 L618.5 59.5 L617.5 61.5 L613.5 65.5 L619.5 65.5" stroke="#ff0000" stroke-width="1" fill="none" />
<path d="M644.5 56.5 L643.5 56.5 L642.5 58.5 L642.5 60.5 L642.5 61.5 L642.5 63.5 L643.5 64.5 L644.5 65.5 L645.5 65.5 L647.5 64.5 L647.5 63.5 L648.5 61.5 L648.5 60.5 L647.5 58.5 L647.5 56.5 L645.5 56.5 L644.5 56.5M651.5 64.5 L651.5 65.5 L652.5 64.5 L651.5 64.5M659.5 56.5 L655.5 62.5 L661.5 62.5M659.5 56.5 L659.5 65.5" stroke="#ff0000" stroke-width="1" fill="none" />
<path d="M686.5 56.5 L685.5 56.5 L684.5 58.5 L684.5 60.5 L684.5 61.5 L684.5 63.5 L685.5 64.5 L686.5 65.5 L687.5 65.5 L688.5 64.5 L689.5 63.5 L689.5 61.5 L689.5 60.5 L689.5 58.5 L688.5 56.5 L687.5 56.5 L686.5 56.5M693.5 64.5 L692.5 64.5 L693.5 65.5 L693.5 64.5M702.5 57.5 L701.5 56.5 L700.5 56.5 L699.5 56.5 L698.5 56.5 L697.5 58.5 L697.5 60.5 L697.5 62.5 L697.5 64.5 L698.5 64.5 L699.5 65.5 L700.5 65.5 L701.5 64.5 L702.5 64.5 L702.5 62.5 L702.5 61.5 L701.5 60.5 L700.5 59.5 L699.5 59.5 L698.5 60.5 L697.5 61.5 L697.5 62.5" stroke="#ff0000" stroke-width="1" fill="none" />
<path d="M728.5 56.5 L726.5 56.5 L726.5 58.5 L725.5 60.5 L725.5 61.5 L726.5 63.5 L726.5 64.5 L728.5 65.5 L729.5 65.5 L730.5 64.5 L731.5 63.5 L731.5 61.5 L731.5 60.5 L731.5 58.5 L730.5 56.5 L729.5 56.5 L728.5 56.5M734.5 64.5 L734.5 65.5 L735.5 64.5 L734.5 64.5M740.5 56.5 L739.5 56.5 L738.5 57.5 L738.5 58.5 L739.5 59.5 L741.5 60.5 L742.5 60.5 L743.5 61.5 L744.5 62.5 L744.5 63.5 L743.5 64.5 L742.5 65.5 L740.5 65.5 L739.5 64.5 L738.5 64.5 L738.5 63.5 L738.5 62.5 L738.5 61.5 L739.5 60.5 L740.5 60.5 L742.5 59.5 L743.5 59.5 L743.5 58.5 L743.5 57.5 L743.5 56.5 L742.5 56.5 L740.5 56.5" stroke="#ff0000" stroke-width="1" fill="none" />
<path d="M768.5 58.5 L769.5 57.5 L770.5 56.5 L770.5 65.5M776.5 64.5 L776.5 65.5 L776.5 64.5M782.5 56.5 L781.5 56.5 L780.5 58.5 L779.5 60.5 L779.5 61.5 L780.5 63.5 L781.5 64.5 L782.5 65.5 L783.5 65.5 L784.5 64.5 L785.5 63.5 L785.5 61.5 L785.5 60.5 L785.5 58.5 L784.5 56.5 L783.5 56.5 L782.5 56.5" stroke="#ff0000" stroke-width="1" fill="none" />
<path d="M568.5 360.5 L566.5 360.5 L565.5 362.5 L565.5 364.5 L565.5 365.5 L565.5 367.5 L566.5 368.5 L568.5 369.5 L570.5 368.5 L571.5 367.5 L571.5 365.5 L571.5 364.5 L571.5 362.5 L570.5 360.5 L568.5 360.5" stroke="#000000" stroke-width="1" fill="none" />
<path d="M607.5 362.5 L607.5 361.5 L608.5 360.5 L609.5 360.5 L610.5 360.5 L611.5 360.5 L612.5 361.5 L612.5 362.5 L612.5 363.5 L611.5 365.5 L607.5 369.5 L613.5 369.5" stroke="#000000" stroke-width="1" fill="none" />
<path d="M652.5 360.5 L648.5 366.5 L655.5 366.5M652.5 360.5 L652.5 369.5" stroke="#000000" stroke-width="1" fill="none" />
<path d="M695.5 361.5 L695.5 360.5 L694.5 360.5 L693.5 360.5 L692.5 360.5 L691.5 362.5 L690.5 364.5 L690.5 366.5 L691.5 368.5 L692.5 368.5 L693.5 369.5 L694.5 368.5 L695.5 368.5 L696.5 366.5 L695.5 365.5 L694.5 364.5 L693.5 363.5 L692.5 364.5 L691.5 365.5 L690.5 366.5" stroke="#000000" stroke-width="1" fill="none" />
<path d="M734.5 360.5 L732.5 360.5 L732.5 361.5 L732.5 362.5 L732.5 363.5 L733.5 363.5 L735.5 364.5 L736.5 364.5 L737.5 365.5 L737.5 366.5 L737.5 367.5 L737.5 368.5 L735.5 369.5 L734.5 369.5 L732.5 368.5 L731.5 367.5 L731.5 366.5 L732.5 365.5 L733.5 364.5 L734.5 364.5 L736.5 363.5 L737.5 363.5 L737.5 362.5 L737.5 361.5 L737.5 360.5 L735.5 360.5 L734.5 360.5" stroke="#000000" stroke-width="1" fill="none" />
<path d="M770.5 362.5 L771.5 361.5 L772.5 360.5 L772.5 369.5M780.5 360.5 L779.5 360.5 L778.5 362.5 L777.5 364.5 L777.5 365.5 L778.5 367.5 L779.5 368.5 L780.5 369.5 L781.5 369.5 L782.5 368.5 L783.5 367.5 L783.5 365.5 L783.5 364.5 L783.5 362.5 L782.5 360.5 L781.5 360.5 L780.5 360.5" stroke="#000000" stroke-width="1" fill="none" />
<path d="M621.5 376.5 L621.5 385.5M621.5 376.5 L625.5 376.5 L626.5 376.5 L626.5 377.5 L627.5 378.5 L627.5 379.5 L626.5 379.5 L626.5 380.5 L625.5 380.5 L621.5 380.5M624.5 380.5 L627.5 385.5M629.5 382.5 L634.5 382.5 L634.5 381.5 L634.5 380.5 L633.5 379.5 L631.5 379.5 L630.5 380.5 L629.5 382.5 L630.5 384.5 L631.5 384.5 L631.5 385.5 L633.5 385.5 L633.5 384.5 L634.5 384.5M641.5 380.5 L641.5 379.5 L640.5 379.5 L639.5 379.5 L637.5 379.5 L637.5 380.5 L637.5 381.5 L638.5 382.5 L640.5 382.5 L641.5 382.5 L641.5 383.5 L641.5 384.5 L640.5 385.5 L639.5 385.5 L637.5 384.5M644.5 376.5 L645.5 376.5 L644.5 376.5M644.5 379.5 L644.5 385.5M652.5 376.5 L652.5 385.5M652.5 380.5 L652.5 379.5 L651.5 379.5 L649.5 379.5 L648.5 380.5 L647.5 382.5 L648.5 384.5 L649.5 384.5 L649.5 385.5 L651.5 385.5 L652.5 384.5M656.5 379.5 L656.5 383.5 L656.5 384.5 L657.5 385.5 L658.5 385.5 L659.5 384.5 L660.5 383.5M660.5 379.5 L660.5 385.5M668.5 379.5 L668.5 385.5M668.5 380.5 L668.5 379.5 L667.5 379.5 L665.5 379.5 L664.5 380.5 L663.5 382.5 L664.5 384.5 L665.5 384.5 L665.5 385.5 L667.5 385.5 L668.5 384.5M672.5 376.5 L672.5 385.5M685.5 374.5 L684.5 375.5 L683.5 376.5 L682.5 378.5 L682.5 380.5 L682.5 382.5 L682.5 384.5 L683.5 386.5 L684.5 387.5 L685.5 388.5M688.5 379.5 L688.5 385.5M688.5 381.5 L689.5 379.5 L690.5 379.5 L691.5 379.5 L692.5 379.5 L692.5 381.5 L692.5 385.5M692.5 381.5 L694.5 379.5 L695.5 379.5 L696.5 379.5 L697.5 379.5 L697.5 381.5 L697.5 385.5M705.5 380.5 L704.5 379.5 L703.5 379.5 L702.5 379.5 L700.5 379.5 L700.5 380.5 L700.5 381.5 L701.5 382.5 L703.5 382.5 L704.5 382.5 L705.5 383.5 L705.5 384.5 L704.5 384.5 L703.5 385.5 L702.5 385.5 L700.5 384.5M708.5 376.5 L713.5 376.5M715.5 374.5 L716.5 374.5 L717.5 373.5 L717.5 378.5M720.5 374.5 L721.5 375.5 L722.5 376.5 L723.5 378.5 L723.5 380.5 L723.5 382.5 L723.5 384.5 L722.5 386.5 L721.5 387.5 L720.5 388.5" stroke="#000000" stroke-width="1" fill="none" />
<path d="M589.5 389.5 L589.5 395.5M589.5 389.5 L592.5 389.5 L593.5 389.5 L593.5 390.5 L593.5 391.5 L593.5 392.5 L592.5 392.5 L589.5 392.5M595.5 389.5 L595.5 395.5M599.5 391.5 L598.5 391.5 L597.5 392.5 L597.5 393.5 L597.5 394.5 L598.5 395.5 L599.5 395.5 L600.5 395.5 L601.5 394.5 L601.5 393.5 L601.5 392.5 L600.5 391.5 L599.5 391.5M603.5 389.5 L603.5 394.5 L603.5 395.5 L604.5 395.5 L605.5 395.5M602.5 391.5 L604.5 391.5M614.5 392.5 L613.5 391.5 L612.5 391.5 L611.5 391.5 L611.5 392.5 L611.5 393.5 L611.5 394.5 L611.5 395.5 L612.5 395.5 L613.5 395.5 L614.5 394.5M616.5 391.5 L616.5 395.5M616.5 393.5 L616.5 392.5 L617.5 391.5 L618.5 391.5M619.5 393.5 L623.5 393.5 L623.5 392.5 L622.5 392.5 L622.5 391.5 L621.5 391.5 L620.5 391.5 L620.5 392.5 L619.5 393.5 L620.5 394.5 L620.5 395.5 L621.5 395.5 L622.5 395.5 L623.5 394.5M628.5 391.5 L628.5 395.5M628.5 392.5 L627.5 391.5 L626.5 391.5 L625.5 391.5 L625.5 392.5 L624.5 393.5 L625.5 394.5 L625.5 395.5 L626.5 395.5 L627.5 395.5 L628.5 394.5M630.5 389.5 L630.5 394.5 L631.5 395.5 L632.5 395.5M630.5 391.5 L632.5 391.5M633.5 393.5 L637.5 393.5 L637.5 392.5 L636.5 392.5 L636.5 391.5 L635.5 391.5 L634.5 391.5 L634.5 392.5 L633.5 393.5 L634.5 394.5 L634.5 395.5 L635.5 395.5 L636.5 395.5 L637.5 394.5M642.5 389.5 L642.5 395.5M642.5 392.5 L641.5 391.5 L640.5 391.5 L639.5 391.5 L639.5 392.5 L638.5 393.5 L639.5 394.5 L639.5 395.5 L640.5 395.5 L641.5 395.5 L642.5 394.5M650.5 391.5 L649.5 391.5 L649.5 392.5 L648.5 393.5 L649.5 394.5 L649.5 395.5 L650.5 395.5 L651.5 395.5 L652.5 394.5 L652.5 393.5 L652.5 392.5 L651.5 391.5 L650.5 391.5M654.5 391.5 L654.5 395.5M654.5 392.5 L655.5 391.5 L656.5 391.5 L657.5 391.5 L657.5 392.5 L657.5 395.5M665.5 389.5 L665.5 395.5M663.5 389.5 L667.5 389.5M669.5 389.5 L669.5 395.5M669.5 392.5 L669.5 391.5 L670.5 391.5 L671.5 391.5 L672.5 392.5 L672.5 395.5M674.5 391.5 L674.5 394.5 L674.5 395.5 L675.5 395.5 L676.5 395.5 L677.5 394.5M677.5 391.5 L677.5 395.5M686.5 389.5 L686.5 394.5 L686.5 395.5 L685.5 395.5 L684.5 395.5 L684.5 394.5 L683.5 394.5 L683.5 393.5M688.5 391.5 L688.5 394.5 L689.5 395.5 L690.5 395.5 L691.5 395.5 L692.5 394.5M692.5 391.5 L692.5 395.5M694.5 391.5 L694.5 395.5M694.5 392.5 L695.5 391.5 L696.5 391.5 L697.5 391.5 L697.5 392.5 L697.5 395.5M711.5 389.5 L708.5 393.5 L712.5 393.5M711.5 389.5 L711.5 395.5M720.5 389.5 L719.5 389.5 L719.5 390.5 L718.5 392.5 L719.5 394.5 L719.5 395.5 L720.5 395.5 L721.5 395.5 L722.5 394.5 L722.5 392.5 L722.5 390.5 L721.5 389.5 L720.5 389.5M725.5 389.5 L728.5 389.5 L726.5 391.5 L727.5 391.5 L727.5 392.5 L728.5 392.5 L728.5 393.5 L728.5 394.5 L727.5 395.5 L726.5 395.5 L725.5 395.5 L724.5 394.5M730.5 391.5 L730.5 392.5 L730.5 391.5M730.5 394.5 L730.5 395.5 L730.5 394.5M734.5 389.5 L733.5 389.5 L733.5 390.5 L732.5 392.5 L733.5 394.5 L733.5 395.5 L734.5 395.5 L735.5 395.5 L736.5 395.5 L736.5 394.5 L736.5 392.5 L736.5 390.5 L736.5 389.5 L735.5 389.5 L734.5 389.5M739.5 390.5 L740.5 390.5 L740.5 389.5 L740.5 395.5M744.5 391.5 L744.5 392.5 L745.5 391.5 L744.5 391.5M744.5 394.5 L744.5 395.5 L745.5 395.5 L744.5 394.5M750.5 389.5 L747.5 393.5 L751.5 393.5M750.5 389.5 L750.5 395.5M756.5 389.5 L753.5 389.5 L753.5 392.5 L753.5 391.5 L754.5 391.5 L755.5 391.5 L756.5 391.5 L756.5 392.5 L756.5 393.5 L756.5 394.5 L756.5 395.5 L755.5 395.5 L754.5 395.5 L753.5 395.5 L753.5 394.5 L752.5 394.5M763.5 390.5 L763.5 389.5 L764.5 389.5 L765.5 389.5 L766.5 389.5 L766.5 390.5 L766.5 391.5 L765.5 392.5 L763.5 395.5 L767.5 395.5M770.5 389.5 L769.5 389.5 L769.5 390.5 L768.5 392.5 L769.5 394.5 L769.5 395.5 L770.5 395.5 L771.5 395.5 L772.5 394.5 L772.5 392.5 L772.5 390.5 L771.5 389.5 L770.5 389.5M775.5 390.5 L776.5 389.5 L776.5 395.5M783.5 389.5 L780.5 389.5 L780.5 392.5 L780.5 391.5 L781.5 391.5 L782.5 391.5 L783.5 391.5 L783.5 392.5 L784.5 393.5 L783.5 394.5 L783.5 395.5 L782.5 395.5 L781.5 395.5 L780.5 395.5 L780.5 394.5" stroke="#000000" stroke-width="1" fill="none" />
</g>
<g id="labels">
<text class="t" x="400" y="15" text-anchor="middle">User1_08_20150603_051735, 20150603.051754</text>
<text class="t" x="400" y="31" text-anchor="middle">Nbeams = 8, Elevation angle = 15.0°, scan duration = 30.3 s, SNR Threshold = 0.008</text>
<text class="t" x="172" y="53" text-anchor="middle">Wind Direction (deg)</text>
<text class="t" x="432" y="53" text-anchor="middle">Vertical velocity (ms⁻¹)</text>
<text class="t" x="672" y="53" text-anchor="middle">Correlation</text>
<text class="t" x="172" y="385" text-anchor="middle">Wind Speed (ms⁻¹)</text>
<text class="t" x="432" y="385" text-anchor="middle">SNR</text>
<text class="t" x="672" y="385" text-anchor="middle">Residual (ms⁻¹)</text>
<text class="t" x="12" y="211" text-anchor="middle" transform="rotate(-90 12 211)">z (km AGL)</text>
<text class="t" x="687" y="395" text-anchor="middle">Plot created on Thu Jun  4 03:01:45 2015</text>
<text class="t" x="48.5" y="65" text-anchor="middle">0</text>
<text class="t" x="117.389" y="65" text-anchor="middle">100</text>
<text class="t" x="186.278" y="65" text-anchor="middle">200</text>
<text class="t" x="255.167" y="65" text-anchor="middle">300</text>
<text class="t" x="48.5" y="369" text-anchor="middle">0</text>
<text class="t" x="110.5" y="369" text-anchor="middle">5</text>
<text class="t" x="172.5" y="369" text-anchor="middle">10</text>
<text class="t" x="234.5" y="369" text-anchor="middle">15</text>
<text class="t" x="296.5" y="369" text-anchor="middle">20</text>
<text class="t" x="44" y="355" text-anchor="end">0.0</text>
<text class="t" x="44" y="285" text-anchor="end">0.5</text>
<text class="t" x="44" y="215" text-anchor="end">1.0</text>
<text class="t" x="44" y="145" text-anchor="end">1.5</text>
<text class="t" x="44" y="75" text-anchor="end">2.0</text>
<text class="t" x="328.5" y="65" text-anchor="middle">−10</text>
<text class="t" x="380.5" y="65" text-anchor="middle">−5</text>
<text class="t" x="432.5" y="65" text-anchor="middle">0</text>
<text class="t" x="484.5" y="65" text-anchor="middle">5</text>
<text class="t" x="536.5" y="65" text-anchor="middle">10</text>
<text class="t" x="328.5" y="369" text-anchor="middle">0.001</text>
<text class="t" x="380.5" y="369" text-anchor="middle">0.010</text>
<text class="t" x="432.5" y="369" text-anchor="middle">0.100</text>
<text class="t" x="484.5" y="369" text-anchor="middle">1.000</text>
<text class="t" x="536.5" y="369" text-anchor="middle">10.000</text>
<text class="t" x="568.5" y="65" text-anchor="middle">0.0</text>
<text class="t" x="610.1" y="65" text-anchor="middle">0.2</text>
<text class="t" x="651.7" y="65" text-anchor="middle">0.4</text>
<text class="t" x="693.3" y="65" text-anchor="middle">0.6</text>
<text class="t" x="734.9" y="65" text-anchor="middle">0.8</text>
<text class="t" x="776.5" y="65" text-anchor="middle">1.0</text>
<text class="t" x="568.5" y="369" text-anchor="middle">0</text>
<text class="t" x="610.1" y="369" text-anchor="middle">2</text>
<text class="t" x="651.7" y="369" text-anchor="middle">4</text>
<text class="t" x="693.3" y="369" text-anchor="middle">6</text>
<text class="t" x="734.9" y="369" text-anchor="middle">8</text>
<text class="t" x="776.5" y="369" text-anchor="middle">10</text>
</g>
</svg>
</body></html>
